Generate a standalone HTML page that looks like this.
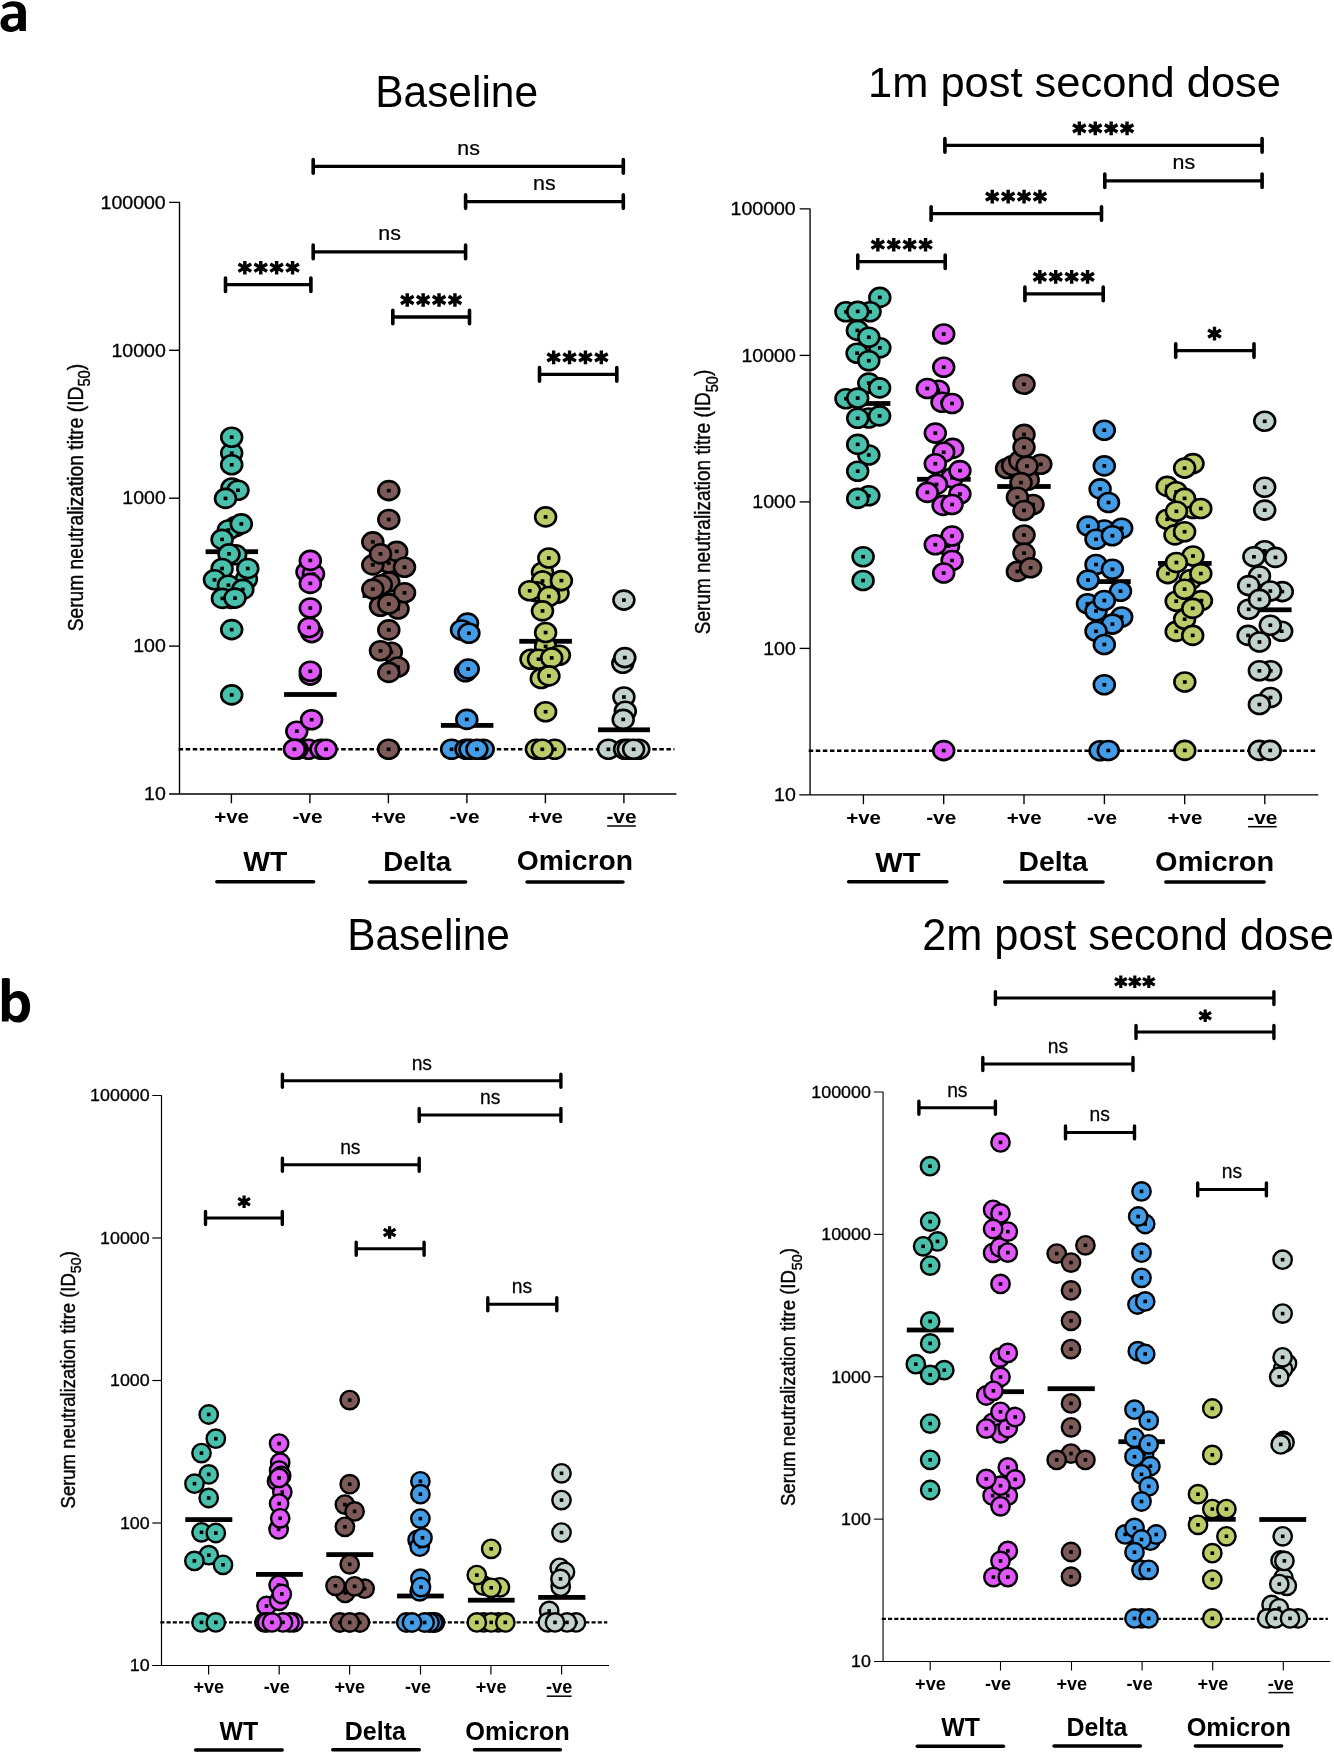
<!DOCTYPE html>
<html><head><meta charset="utf-8"><title>Neutralization titres</title>
<style>
html,body{margin:0;padding:0;background:#fff;}
body{width:1334px;height:1752px;overflow:hidden;}
svg{display:block;will-change:transform;}
text{font-family:"Liberation Sans",sans-serif;fill:#000;}
</style></head><body>
<svg width="1334" height="1752" viewBox="0 0 1334 1752">
<rect width="1334" height="1752" fill="#fff"/>
<path fill="#000" fill-rule="evenodd" d="M2.0,5.6C5.5,2.6 9.5,1.2 13.0,1.2C21.5,1.2 25.9,4.8 25.9,12.0L25.9,31.0L19.6,31.0L19.1,28.6C17.0,30.9 14.2,32.0 10.6,32.0C4.3,32.0 0.5,28.6 0.5,23.3C0.5,16.9 5.8,13.8 13.6,13.8L18.0,13.8L18.0,12.0C18.0,8.4 15.9,6.6 12.1,6.6C9.0,6.6 6.0,7.6 3.5,9.2ZM18.0,18.3L13.9,18.3C10.0,18.3 8.0,19.8 8.0,22.7C8.0,25.2 9.6,26.7 12.2,26.7C15.5,26.7 18.0,24.5 18.0,21.5Z"/>
<path fill="#000" fill-rule="evenodd" d="M1.9,979.0Q1.9,978.0 5.8,978.0Q9.8,978.0 9.8,979.0L9.8,995.3C12.0,992.5 15.0,991.0 18.6,991.0C25.8,991.0 30.1,997.5 30.1,1006.6C30.1,1016.3 25.4,1022.6 18.0,1022.6C14.2,1022.6 11.2,1021.0 9.0,1018.0L8.4,1021.6L1.9,1021.6ZM9.8,1001.8C11.2,999.3 13.3,997.7 15.9,997.7C19.7,997.7 21.9,1001.2 21.9,1006.7C21.9,1012.6 19.6,1016.0 15.7,1016.0C13.2,1016.0 11.2,1014.6 9.8,1012.0Z"/>
<path d="M178.60,749.35H674.50" stroke="#000" stroke-width="2.5" stroke-dasharray="4.5 2.57"/>
<path d="M169.10,202.40H179.50V794.00M169.10,794.00H676.40" stroke="#000" stroke-width="1.4" fill="none" stroke-linejoin="round"/>
<text transform="translate(100.54,208.61) scale(1.098,1)" font-size="17.8" stroke="#000" stroke-width="0.3">100000</text>
<line x1="169.10" y1="350.30" x2="179.50" y2="350.30" stroke="#000" stroke-width="1.4" stroke-linecap="butt"/>
<text transform="translate(111.41,356.51) scale(1.098,1)" font-size="17.8" stroke="#000" stroke-width="0.3">10000</text>
<line x1="169.10" y1="498.20" x2="179.50" y2="498.20" stroke="#000" stroke-width="1.4" stroke-linecap="butt"/>
<text transform="translate(122.30,504.41) scale(1.098,1)" font-size="17.8" stroke="#000" stroke-width="0.3">1000</text>
<line x1="169.10" y1="646.10" x2="179.50" y2="646.10" stroke="#000" stroke-width="1.4" stroke-linecap="butt"/>
<text transform="translate(133.16,652.31) scale(1.098,1)" font-size="17.8" stroke="#000" stroke-width="0.3">100</text>
<text transform="translate(144.03,800.21) scale(1.098,1)" font-size="17.8" stroke="#000" stroke-width="0.3">10</text>
<line x1="231.40" y1="794.00" x2="231.40" y2="803.30" stroke="#000" stroke-width="1.4" stroke-linecap="butt"/>
<line x1="309.90" y1="794.00" x2="309.90" y2="803.30" stroke="#000" stroke-width="1.4" stroke-linecap="butt"/>
<line x1="388.40" y1="794.00" x2="388.40" y2="803.30" stroke="#000" stroke-width="1.4" stroke-linecap="butt"/>
<line x1="466.90" y1="794.00" x2="466.90" y2="803.30" stroke="#000" stroke-width="1.4" stroke-linecap="butt"/>
<line x1="545.40" y1="794.00" x2="545.40" y2="803.30" stroke="#000" stroke-width="1.4" stroke-linecap="butt"/>
<line x1="623.90" y1="794.00" x2="623.90" y2="803.30" stroke="#000" stroke-width="1.4" stroke-linecap="butt"/>
<text transform="translate(214.19,823.30) scale(1.1364,1)" font-size="18.09" font-weight="bold">+ve</text>
<text transform="translate(292.39,823.30) scale(1.1328,1)" font-size="18.40" font-weight="bold">-ve</text>
<text transform="translate(371.19,823.30) scale(1.1364,1)" font-size="18.09" font-weight="bold">+ve</text>
<text transform="translate(449.39,823.30) scale(1.1328,1)" font-size="18.40" font-weight="bold">-ve</text>
<text transform="translate(528.19,823.30) scale(1.1364,1)" font-size="18.09" font-weight="bold">+ve</text>
<text transform="translate(606.39,823.30) scale(1.1328,1)" font-size="18.40" font-weight="bold">-ve</text>
<line x1="607.20" y1="826.00" x2="635.80" y2="826.00" stroke="#000" stroke-width="1.5" stroke-linecap="butt"/>
<text transform="translate(243.37,870.90) scale(1.0096,1)" font-size="28.05" font-weight="bold">WT</text>
<text transform="translate(383.24,870.90) scale(1.0335,1)" font-size="26.90" font-weight="bold">Delta</text>
<text transform="translate(516.74,870.40) scale(1.0463,1)" font-size="27.03" font-weight="bold">Omicron</text>
<line x1="216.85" y1="881.80" x2="313.65" y2="881.80" stroke="#000" stroke-width="3.5" stroke-linecap="round"/>
<line x1="369.75" y1="881.90" x2="465.65" y2="881.90" stroke="#000" stroke-width="3.5" stroke-linecap="round"/>
<line x1="527.05" y1="881.90" x2="622.95" y2="881.90" stroke="#000" stroke-width="3.5" stroke-linecap="round"/>
<text transform="translate(82.60,630.50) rotate(-90) scale(0.8746,1)" font-size="22.0" stroke="#000" stroke-width="0.4" x="-1.01">Serum neutralization titre (ID<tspan font-size="16.94" dy="7.37">50</tspan><tspan dy="-7.37">)</tspan></text>
<text transform="translate(375.22,106.90) scale(0.9499,1)" font-size="44.69" font-weight="normal">Baseline</text>
<rect x="205.60" y="549.30" width="52.50" height="4.8" fill="#000"/>
<rect x="284.10" y="692.10" width="52.60" height="4.8" fill="#000"/>
<rect x="362.60" y="593.10" width="52.00" height="4.8" fill="#000"/>
<rect x="440.90" y="723.00" width="52.50" height="4.8" fill="#000"/>
<rect x="519.30" y="638.90" width="52.60" height="4.8" fill="#000"/>
<rect x="598.00" y="727.40" width="52.00" height="4.8" fill="#000"/>
<path d="M313.20,166.40H623.30" stroke="#000" stroke-width="3.3"/>
<path d="M313.20,159.65V173.15M623.30,159.65V173.15" stroke="#000" stroke-width="3.6" stroke-linecap="round"/>
<text transform="translate(457.29,154.50) scale(1.0272,1)" font-size="20.82" font-weight="normal" stroke="#000" stroke-width="0.25">ns</text>
<path d="M465.60,201.60H623.30" stroke="#000" stroke-width="3.3"/>
<path d="M465.60,194.85V208.35M623.30,194.85V208.35" stroke="#000" stroke-width="3.6" stroke-linecap="round"/>
<text transform="translate(532.99,189.70) scale(1.0272,1)" font-size="20.82" font-weight="normal" stroke="#000" stroke-width="0.25">ns</text>
<path d="M313.20,251.90H465.60" stroke="#000" stroke-width="3.3"/>
<path d="M313.20,245.15V258.65M465.60,245.15V258.65" stroke="#000" stroke-width="3.6" stroke-linecap="round"/>
<text transform="translate(378.29,240.00) scale(1.0272,1)" font-size="20.82" font-weight="normal" stroke="#000" stroke-width="0.25">ns</text>
<path d="M225.50,284.70H310.90" stroke="#000" stroke-width="3.3"/>
<path d="M225.50,277.95V291.45M310.90,277.95V291.45" stroke="#000" stroke-width="3.6" stroke-linecap="round"/>
<path d="M244.85,260.90V274.50M238.49,264.03L251.21,271.37M238.49,271.37L251.21,264.03" stroke="#000" stroke-width="3.4" fill="none"/>
<path d="M260.75,260.90V274.50M254.39,264.03L267.11,271.37M254.39,271.37L267.11,264.03" stroke="#000" stroke-width="3.4" fill="none"/>
<path d="M276.65,260.90V274.50M270.29,264.03L283.01,271.37M270.29,271.37L283.01,264.03" stroke="#000" stroke-width="3.4" fill="none"/>
<path d="M292.55,260.90V274.50M286.19,264.03L298.91,271.37M286.19,271.37L298.91,264.03" stroke="#000" stroke-width="3.4" fill="none"/>
<path d="M392.80,317.00H469.50" stroke="#000" stroke-width="3.3"/>
<path d="M392.80,310.25V323.75M469.50,310.25V323.75" stroke="#000" stroke-width="3.6" stroke-linecap="round"/>
<path d="M407.25,293.20V306.80M400.89,296.33L413.61,303.67M400.89,303.67L413.61,296.33" stroke="#000" stroke-width="3.4" fill="none"/>
<path d="M423.15,293.20V306.80M416.79,296.33L429.51,303.67M416.79,303.67L429.51,296.33" stroke="#000" stroke-width="3.4" fill="none"/>
<path d="M439.05,293.20V306.80M432.69,296.33L445.41,303.67M432.69,303.67L445.41,296.33" stroke="#000" stroke-width="3.4" fill="none"/>
<path d="M454.95,293.20V306.80M448.59,296.33L461.31,303.67M448.59,303.67L461.31,296.33" stroke="#000" stroke-width="3.4" fill="none"/>
<path d="M539.50,374.40H616.80" stroke="#000" stroke-width="3.3"/>
<path d="M539.50,367.65V381.15M616.80,367.65V381.15" stroke="#000" stroke-width="3.6" stroke-linecap="round"/>
<path d="M553.65,350.60V364.20M547.29,353.73L560.01,361.07M547.29,361.07L560.01,353.73" stroke="#000" stroke-width="3.4" fill="none"/>
<path d="M569.55,350.60V364.20M563.19,353.73L575.91,361.07M563.19,361.07L575.91,353.73" stroke="#000" stroke-width="3.4" fill="none"/>
<path d="M585.45,350.60V364.20M579.09,353.73L591.81,361.07M579.09,361.07L591.81,353.73" stroke="#000" stroke-width="3.4" fill="none"/>
<path d="M601.35,350.60V364.20M594.99,353.73L607.71,361.07M594.99,361.07L607.71,353.73" stroke="#000" stroke-width="3.4" fill="none"/>
<ellipse cx="231.70" cy="453.10" rx="10.45" ry="9.5" fill="#48C0AC" stroke="#000" stroke-width="2.6"/>
<rect x="229.80" y="451.30" width="3.8" height="3.6" fill="#000"/>
<ellipse cx="231.70" cy="437.20" rx="10.45" ry="9.5" fill="#48C0AC" stroke="#000" stroke-width="2.6"/>
<rect x="229.80" y="435.40" width="3.8" height="3.6" fill="#000"/>
<ellipse cx="231.70" cy="464.80" rx="10.45" ry="9.5" fill="#48C0AC" stroke="#000" stroke-width="2.6"/>
<rect x="229.80" y="463.00" width="3.8" height="3.6" fill="#000"/>
<ellipse cx="232.00" cy="488.00" rx="10.45" ry="9.5" fill="#48C0AC" stroke="#000" stroke-width="2.6"/>
<rect x="230.10" y="486.20" width="3.8" height="3.6" fill="#000"/>
<ellipse cx="238.00" cy="490.30" rx="10.45" ry="9.5" fill="#48C0AC" stroke="#000" stroke-width="2.6"/>
<rect x="236.10" y="488.50" width="3.8" height="3.6" fill="#000"/>
<ellipse cx="225.50" cy="498.40" rx="10.45" ry="9.5" fill="#48C0AC" stroke="#000" stroke-width="2.6"/>
<rect x="223.60" y="496.60" width="3.8" height="3.6" fill="#000"/>
<ellipse cx="235.60" cy="526.50" rx="10.45" ry="9.5" fill="#48C0AC" stroke="#000" stroke-width="2.6"/>
<rect x="233.70" y="524.70" width="3.8" height="3.6" fill="#000"/>
<ellipse cx="228.40" cy="530.00" rx="10.45" ry="9.5" fill="#48C0AC" stroke="#000" stroke-width="2.6"/>
<rect x="226.50" y="528.20" width="3.8" height="3.6" fill="#000"/>
<ellipse cx="241.30" cy="523.90" rx="10.45" ry="9.5" fill="#48C0AC" stroke="#000" stroke-width="2.6"/>
<rect x="239.40" y="522.10" width="3.8" height="3.6" fill="#000"/>
<ellipse cx="222.10" cy="539.40" rx="10.45" ry="9.5" fill="#48C0AC" stroke="#000" stroke-width="2.6"/>
<rect x="220.20" y="537.60" width="3.8" height="3.6" fill="#000"/>
<ellipse cx="235.60" cy="554.70" rx="10.45" ry="9.5" fill="#48C0AC" stroke="#000" stroke-width="2.6"/>
<rect x="233.70" y="552.90" width="3.8" height="3.6" fill="#000"/>
<ellipse cx="229.00" cy="553.90" rx="10.45" ry="9.5" fill="#48C0AC" stroke="#000" stroke-width="2.6"/>
<rect x="227.10" y="552.10" width="3.8" height="3.6" fill="#000"/>
<ellipse cx="246.40" cy="579.20" rx="10.45" ry="9.5" fill="#48C0AC" stroke="#000" stroke-width="2.6"/>
<rect x="244.50" y="577.40" width="3.8" height="3.6" fill="#000"/>
<ellipse cx="230.80" cy="598.40" rx="10.45" ry="9.5" fill="#48C0AC" stroke="#000" stroke-width="2.6"/>
<rect x="228.90" y="596.60" width="3.8" height="3.6" fill="#000"/>
<ellipse cx="222.10" cy="568.50" rx="10.45" ry="9.5" fill="#48C0AC" stroke="#000" stroke-width="2.6"/>
<rect x="220.20" y="566.70" width="3.8" height="3.6" fill="#000"/>
<ellipse cx="247.80" cy="568.50" rx="10.45" ry="9.5" fill="#48C0AC" stroke="#000" stroke-width="2.6"/>
<rect x="245.90" y="566.70" width="3.8" height="3.6" fill="#000"/>
<ellipse cx="214.50" cy="579.80" rx="10.45" ry="9.5" fill="#48C0AC" stroke="#000" stroke-width="2.6"/>
<rect x="212.60" y="578.00" width="3.8" height="3.6" fill="#000"/>
<ellipse cx="228.40" cy="585.20" rx="10.45" ry="9.5" fill="#48C0AC" stroke="#000" stroke-width="2.6"/>
<rect x="226.50" y="583.40" width="3.8" height="3.6" fill="#000"/>
<ellipse cx="242.80" cy="589.40" rx="10.45" ry="9.5" fill="#48C0AC" stroke="#000" stroke-width="2.6"/>
<rect x="240.90" y="587.60" width="3.8" height="3.6" fill="#000"/>
<ellipse cx="222.40" cy="598.40" rx="10.45" ry="9.5" fill="#48C0AC" stroke="#000" stroke-width="2.6"/>
<rect x="220.50" y="596.60" width="3.8" height="3.6" fill="#000"/>
<ellipse cx="235.00" cy="598.10" rx="10.45" ry="9.5" fill="#48C0AC" stroke="#000" stroke-width="2.6"/>
<rect x="233.10" y="596.30" width="3.8" height="3.6" fill="#000"/>
<ellipse cx="231.70" cy="629.60" rx="10.45" ry="9.5" fill="#48C0AC" stroke="#000" stroke-width="2.6"/>
<rect x="229.80" y="627.80" width="3.8" height="3.6" fill="#000"/>
<ellipse cx="231.70" cy="694.90" rx="10.45" ry="9.5" fill="#48C0AC" stroke="#000" stroke-width="2.6"/>
<rect x="229.80" y="693.10" width="3.8" height="3.6" fill="#000"/>
<ellipse cx="307.00" cy="572.00" rx="10.45" ry="9.5" fill="#E058FA" stroke="#000" stroke-width="2.6"/>
<rect x="305.10" y="570.20" width="3.8" height="3.6" fill="#000"/>
<ellipse cx="313.50" cy="574.00" rx="10.45" ry="9.5" fill="#E058FA" stroke="#000" stroke-width="2.6"/>
<rect x="311.60" y="572.20" width="3.8" height="3.6" fill="#000"/>
<ellipse cx="310.30" cy="560.40" rx="10.45" ry="9.5" fill="#E058FA" stroke="#000" stroke-width="2.6"/>
<rect x="308.40" y="558.60" width="3.8" height="3.6" fill="#000"/>
<ellipse cx="310.30" cy="583.40" rx="10.45" ry="9.5" fill="#E058FA" stroke="#000" stroke-width="2.6"/>
<rect x="308.40" y="581.60" width="3.8" height="3.6" fill="#000"/>
<ellipse cx="310.30" cy="608.00" rx="10.45" ry="9.5" fill="#E058FA" stroke="#000" stroke-width="2.6"/>
<rect x="308.40" y="606.20" width="3.8" height="3.6" fill="#000"/>
<ellipse cx="311.70" cy="632.60" rx="10.45" ry="9.5" fill="#E058FA" stroke="#000" stroke-width="2.6"/>
<rect x="309.80" y="630.80" width="3.8" height="3.6" fill="#000"/>
<ellipse cx="309.10" cy="627.50" rx="10.45" ry="9.5" fill="#E058FA" stroke="#000" stroke-width="2.6"/>
<rect x="307.20" y="625.70" width="3.8" height="3.6" fill="#000"/>
<ellipse cx="310.30" cy="675.10" rx="10.45" ry="9.5" fill="#E058FA" stroke="#000" stroke-width="2.6"/>
<rect x="308.40" y="673.30" width="3.8" height="3.6" fill="#000"/>
<ellipse cx="310.30" cy="671.30" rx="10.45" ry="9.5" fill="#E058FA" stroke="#000" stroke-width="2.6"/>
<rect x="308.40" y="669.50" width="3.8" height="3.6" fill="#000"/>
<ellipse cx="296.80" cy="731.20" rx="10.45" ry="9.5" fill="#E058FA" stroke="#000" stroke-width="2.6"/>
<rect x="294.90" y="729.40" width="3.8" height="3.6" fill="#000"/>
<ellipse cx="311.60" cy="719.70" rx="10.45" ry="9.5" fill="#E058FA" stroke="#000" stroke-width="2.6"/>
<rect x="309.70" y="717.90" width="3.8" height="3.6" fill="#000"/>
<ellipse cx="308.50" cy="749.30" rx="10.45" ry="9.5" fill="#E058FA" stroke="#000" stroke-width="2.6"/>
<rect x="306.60" y="747.50" width="3.8" height="3.6" fill="#000"/>
<ellipse cx="297.00" cy="749.30" rx="10.45" ry="9.5" fill="#E058FA" stroke="#000" stroke-width="2.6"/>
<rect x="295.10" y="747.50" width="3.8" height="3.6" fill="#000"/>
<ellipse cx="321.00" cy="749.30" rx="10.45" ry="9.5" fill="#E058FA" stroke="#000" stroke-width="2.6"/>
<rect x="319.10" y="747.50" width="3.8" height="3.6" fill="#000"/>
<ellipse cx="294.40" cy="749.30" rx="10.45" ry="9.5" fill="#E058FA" stroke="#000" stroke-width="2.6"/>
<rect x="292.50" y="747.50" width="3.8" height="3.6" fill="#000"/>
<ellipse cx="326.10" cy="749.30" rx="10.45" ry="9.5" fill="#E058FA" stroke="#000" stroke-width="2.6"/>
<rect x="324.20" y="747.50" width="3.8" height="3.6" fill="#000"/>
<ellipse cx="388.80" cy="563.10" rx="10.45" ry="9.5" fill="#7B5A57" stroke="#000" stroke-width="2.6"/>
<rect x="386.90" y="561.30" width="3.8" height="3.6" fill="#000"/>
<ellipse cx="388.80" cy="582.00" rx="10.45" ry="9.5" fill="#7B5A57" stroke="#000" stroke-width="2.6"/>
<rect x="386.90" y="580.20" width="3.8" height="3.6" fill="#000"/>
<ellipse cx="381.20" cy="584.70" rx="10.45" ry="9.5" fill="#7B5A57" stroke="#000" stroke-width="2.6"/>
<rect x="379.30" y="582.90" width="3.8" height="3.6" fill="#000"/>
<ellipse cx="380.50" cy="606.30" rx="10.45" ry="9.5" fill="#7B5A57" stroke="#000" stroke-width="2.6"/>
<rect x="378.60" y="604.50" width="3.8" height="3.6" fill="#000"/>
<ellipse cx="398.00" cy="609.00" rx="10.45" ry="9.5" fill="#7B5A57" stroke="#000" stroke-width="2.6"/>
<rect x="396.10" y="607.20" width="3.8" height="3.6" fill="#000"/>
<ellipse cx="391.30" cy="652.20" rx="10.45" ry="9.5" fill="#7B5A57" stroke="#000" stroke-width="2.6"/>
<rect x="389.40" y="650.40" width="3.8" height="3.6" fill="#000"/>
<ellipse cx="398.00" cy="667.00" rx="10.45" ry="9.5" fill="#7B5A57" stroke="#000" stroke-width="2.6"/>
<rect x="396.10" y="665.20" width="3.8" height="3.6" fill="#000"/>
<ellipse cx="388.80" cy="490.60" rx="10.45" ry="9.5" fill="#7B5A57" stroke="#000" stroke-width="2.6"/>
<rect x="386.90" y="488.80" width="3.8" height="3.6" fill="#000"/>
<ellipse cx="388.80" cy="519.50" rx="10.45" ry="9.5" fill="#7B5A57" stroke="#000" stroke-width="2.6"/>
<rect x="386.90" y="517.70" width="3.8" height="3.6" fill="#000"/>
<ellipse cx="372.80" cy="541.90" rx="10.45" ry="9.5" fill="#7B5A57" stroke="#000" stroke-width="2.6"/>
<rect x="370.90" y="540.10" width="3.8" height="3.6" fill="#000"/>
<ellipse cx="396.70" cy="551.40" rx="10.45" ry="9.5" fill="#7B5A57" stroke="#000" stroke-width="2.6"/>
<rect x="394.80" y="549.60" width="3.8" height="3.6" fill="#000"/>
<ellipse cx="372.80" cy="564.90" rx="10.45" ry="9.5" fill="#7B5A57" stroke="#000" stroke-width="2.6"/>
<rect x="370.90" y="563.10" width="3.8" height="3.6" fill="#000"/>
<ellipse cx="380.50" cy="553.90" rx="10.45" ry="9.5" fill="#7B5A57" stroke="#000" stroke-width="2.6"/>
<rect x="378.60" y="552.10" width="3.8" height="3.6" fill="#000"/>
<ellipse cx="404.50" cy="567.20" rx="10.45" ry="9.5" fill="#7B5A57" stroke="#000" stroke-width="2.6"/>
<rect x="402.60" y="565.40" width="3.8" height="3.6" fill="#000"/>
<ellipse cx="372.80" cy="589.10" rx="10.45" ry="9.5" fill="#7B5A57" stroke="#000" stroke-width="2.6"/>
<rect x="370.90" y="587.30" width="3.8" height="3.6" fill="#000"/>
<ellipse cx="404.50" cy="592.80" rx="10.45" ry="9.5" fill="#7B5A57" stroke="#000" stroke-width="2.6"/>
<rect x="402.60" y="591.00" width="3.8" height="3.6" fill="#000"/>
<ellipse cx="388.80" cy="604.00" rx="10.45" ry="9.5" fill="#7B5A57" stroke="#000" stroke-width="2.6"/>
<rect x="386.90" y="602.20" width="3.8" height="3.6" fill="#000"/>
<ellipse cx="388.80" cy="629.90" rx="10.45" ry="9.5" fill="#7B5A57" stroke="#000" stroke-width="2.6"/>
<rect x="386.90" y="628.10" width="3.8" height="3.6" fill="#000"/>
<ellipse cx="380.50" cy="650.80" rx="10.45" ry="9.5" fill="#7B5A57" stroke="#000" stroke-width="2.6"/>
<rect x="378.60" y="649.00" width="3.8" height="3.6" fill="#000"/>
<ellipse cx="388.80" cy="672.40" rx="10.45" ry="9.5" fill="#7B5A57" stroke="#000" stroke-width="2.6"/>
<rect x="386.90" y="670.60" width="3.8" height="3.6" fill="#000"/>
<ellipse cx="388.60" cy="749.30" rx="10.45" ry="9.5" fill="#7B5A57" stroke="#000" stroke-width="2.6"/>
<rect x="386.70" y="747.50" width="3.8" height="3.6" fill="#000"/>
<ellipse cx="467.50" cy="623.10" rx="10.45" ry="9.5" fill="#449BE6" stroke="#000" stroke-width="2.6"/>
<rect x="465.60" y="621.30" width="3.8" height="3.6" fill="#000"/>
<ellipse cx="461.50" cy="630.00" rx="10.45" ry="9.5" fill="#449BE6" stroke="#000" stroke-width="2.6"/>
<rect x="459.60" y="628.20" width="3.8" height="3.6" fill="#000"/>
<ellipse cx="468.90" cy="633.30" rx="10.45" ry="9.5" fill="#449BE6" stroke="#000" stroke-width="2.6"/>
<rect x="467.00" y="631.50" width="3.8" height="3.6" fill="#000"/>
<ellipse cx="465.50" cy="671.70" rx="10.45" ry="9.5" fill="#449BE6" stroke="#000" stroke-width="2.6"/>
<rect x="463.60" y="669.90" width="3.8" height="3.6" fill="#000"/>
<ellipse cx="468.20" cy="669.00" rx="10.45" ry="9.5" fill="#449BE6" stroke="#000" stroke-width="2.6"/>
<rect x="466.30" y="667.20" width="3.8" height="3.6" fill="#000"/>
<ellipse cx="466.80" cy="719.40" rx="10.45" ry="9.5" fill="#449BE6" stroke="#000" stroke-width="2.6"/>
<rect x="464.90" y="717.60" width="3.8" height="3.6" fill="#000"/>
<ellipse cx="483.20" cy="749.30" rx="10.45" ry="9.5" fill="#449BE6" stroke="#000" stroke-width="2.6"/>
<rect x="481.30" y="747.50" width="3.8" height="3.6" fill="#000"/>
<ellipse cx="451.60" cy="749.30" rx="10.45" ry="9.5" fill="#449BE6" stroke="#000" stroke-width="2.6"/>
<rect x="449.70" y="747.50" width="3.8" height="3.6" fill="#000"/>
<ellipse cx="466.00" cy="749.30" rx="10.45" ry="9.5" fill="#449BE6" stroke="#000" stroke-width="2.6"/>
<rect x="464.10" y="747.50" width="3.8" height="3.6" fill="#000"/>
<ellipse cx="470.00" cy="749.30" rx="10.45" ry="9.5" fill="#449BE6" stroke="#000" stroke-width="2.6"/>
<rect x="468.10" y="747.50" width="3.8" height="3.6" fill="#000"/>
<ellipse cx="476.90" cy="749.30" rx="10.45" ry="9.5" fill="#449BE6" stroke="#000" stroke-width="2.6"/>
<rect x="475.00" y="747.50" width="3.8" height="3.6" fill="#000"/>
<ellipse cx="542.50" cy="572.20" rx="10.45" ry="9.5" fill="#BCCC68" stroke="#000" stroke-width="2.6"/>
<rect x="540.60" y="570.40" width="3.8" height="3.6" fill="#000"/>
<ellipse cx="542.50" cy="581.00" rx="10.45" ry="9.5" fill="#BCCC68" stroke="#000" stroke-width="2.6"/>
<rect x="540.60" y="579.20" width="3.8" height="3.6" fill="#000"/>
<ellipse cx="536.40" cy="591.80" rx="10.45" ry="9.5" fill="#BCCC68" stroke="#000" stroke-width="2.6"/>
<rect x="534.50" y="590.00" width="3.8" height="3.6" fill="#000"/>
<ellipse cx="558.00" cy="593.10" rx="10.45" ry="9.5" fill="#BCCC68" stroke="#000" stroke-width="2.6"/>
<rect x="556.10" y="591.30" width="3.8" height="3.6" fill="#000"/>
<ellipse cx="545.60" cy="646.40" rx="10.45" ry="9.5" fill="#BCCC68" stroke="#000" stroke-width="2.6"/>
<rect x="543.70" y="644.60" width="3.8" height="3.6" fill="#000"/>
<ellipse cx="531.00" cy="659.20" rx="10.45" ry="9.5" fill="#BCCC68" stroke="#000" stroke-width="2.6"/>
<rect x="529.10" y="657.40" width="3.8" height="3.6" fill="#000"/>
<ellipse cx="559.40" cy="655.20" rx="10.45" ry="9.5" fill="#BCCC68" stroke="#000" stroke-width="2.6"/>
<rect x="557.50" y="653.40" width="3.8" height="3.6" fill="#000"/>
<ellipse cx="541.30" cy="678.50" rx="10.45" ry="9.5" fill="#BCCC68" stroke="#000" stroke-width="2.6"/>
<rect x="539.40" y="676.70" width="3.8" height="3.6" fill="#000"/>
<ellipse cx="545.60" cy="516.90" rx="10.45" ry="9.5" fill="#BCCC68" stroke="#000" stroke-width="2.6"/>
<rect x="543.70" y="515.10" width="3.8" height="3.6" fill="#000"/>
<ellipse cx="548.80" cy="558.00" rx="10.45" ry="9.5" fill="#BCCC68" stroke="#000" stroke-width="2.6"/>
<rect x="546.90" y="556.20" width="3.8" height="3.6" fill="#000"/>
<ellipse cx="561.40" cy="580.60" rx="10.45" ry="9.5" fill="#BCCC68" stroke="#000" stroke-width="2.6"/>
<rect x="559.50" y="578.80" width="3.8" height="3.6" fill="#000"/>
<ellipse cx="529.70" cy="590.80" rx="10.45" ry="9.5" fill="#BCCC68" stroke="#000" stroke-width="2.6"/>
<rect x="527.80" y="589.00" width="3.8" height="3.6" fill="#000"/>
<ellipse cx="548.80" cy="596.50" rx="10.45" ry="9.5" fill="#BCCC68" stroke="#000" stroke-width="2.6"/>
<rect x="546.90" y="594.70" width="3.8" height="3.6" fill="#000"/>
<ellipse cx="542.50" cy="610.90" rx="10.45" ry="9.5" fill="#BCCC68" stroke="#000" stroke-width="2.6"/>
<rect x="540.60" y="609.10" width="3.8" height="3.6" fill="#000"/>
<ellipse cx="545.60" cy="632.50" rx="10.45" ry="9.5" fill="#BCCC68" stroke="#000" stroke-width="2.6"/>
<rect x="543.70" y="630.70" width="3.8" height="3.6" fill="#000"/>
<ellipse cx="538.50" cy="659.20" rx="10.45" ry="9.5" fill="#BCCC68" stroke="#000" stroke-width="2.6"/>
<rect x="536.60" y="657.40" width="3.8" height="3.6" fill="#000"/>
<ellipse cx="551.70" cy="657.90" rx="10.45" ry="9.5" fill="#BCCC68" stroke="#000" stroke-width="2.6"/>
<rect x="549.80" y="656.10" width="3.8" height="3.6" fill="#000"/>
<ellipse cx="548.90" cy="675.90" rx="10.45" ry="9.5" fill="#BCCC68" stroke="#000" stroke-width="2.6"/>
<rect x="547.00" y="674.10" width="3.8" height="3.6" fill="#000"/>
<ellipse cx="545.60" cy="711.70" rx="10.45" ry="9.5" fill="#BCCC68" stroke="#000" stroke-width="2.6"/>
<rect x="543.70" y="709.90" width="3.8" height="3.6" fill="#000"/>
<ellipse cx="536.40" cy="749.30" rx="10.45" ry="9.5" fill="#BCCC68" stroke="#000" stroke-width="2.6"/>
<rect x="534.50" y="747.50" width="3.8" height="3.6" fill="#000"/>
<ellipse cx="554.70" cy="749.30" rx="10.45" ry="9.5" fill="#BCCC68" stroke="#000" stroke-width="2.6"/>
<rect x="552.80" y="747.50" width="3.8" height="3.6" fill="#000"/>
<ellipse cx="542.30" cy="749.30" rx="10.45" ry="9.5" fill="#BCCC68" stroke="#000" stroke-width="2.6"/>
<rect x="540.40" y="747.50" width="3.8" height="3.6" fill="#000"/>
<ellipse cx="623.90" cy="600.10" rx="10.45" ry="9.5" fill="#C2D3CD" stroke="#000" stroke-width="2.6"/>
<rect x="622.00" y="598.30" width="3.8" height="3.6" fill="#000"/>
<ellipse cx="622.80" cy="663.30" rx="10.45" ry="9.5" fill="#C2D3CD" stroke="#000" stroke-width="2.6"/>
<rect x="620.90" y="661.50" width="3.8" height="3.6" fill="#000"/>
<ellipse cx="624.80" cy="657.60" rx="10.45" ry="9.5" fill="#C2D3CD" stroke="#000" stroke-width="2.6"/>
<rect x="622.90" y="655.80" width="3.8" height="3.6" fill="#000"/>
<ellipse cx="623.90" cy="697.00" rx="10.45" ry="9.5" fill="#C2D3CD" stroke="#000" stroke-width="2.6"/>
<rect x="622.00" y="695.20" width="3.8" height="3.6" fill="#000"/>
<ellipse cx="625.30" cy="711.20" rx="10.45" ry="9.5" fill="#C2D3CD" stroke="#000" stroke-width="2.6"/>
<rect x="623.40" y="709.40" width="3.8" height="3.6" fill="#000"/>
<ellipse cx="623.20" cy="719.40" rx="10.45" ry="9.5" fill="#C2D3CD" stroke="#000" stroke-width="2.6"/>
<rect x="621.30" y="717.60" width="3.8" height="3.6" fill="#000"/>
<ellipse cx="638.80" cy="749.30" rx="10.45" ry="9.5" fill="#C2D3CD" stroke="#000" stroke-width="2.6"/>
<rect x="636.90" y="747.50" width="3.8" height="3.6" fill="#000"/>
<ellipse cx="608.40" cy="749.30" rx="10.45" ry="9.5" fill="#C2D3CD" stroke="#000" stroke-width="2.6"/>
<rect x="606.50" y="747.50" width="3.8" height="3.6" fill="#000"/>
<ellipse cx="624.60" cy="749.30" rx="10.45" ry="9.5" fill="#C2D3CD" stroke="#000" stroke-width="2.6"/>
<rect x="622.70" y="747.50" width="3.8" height="3.6" fill="#000"/>
<ellipse cx="628.30" cy="749.30" rx="10.45" ry="9.5" fill="#C2D3CD" stroke="#000" stroke-width="2.6"/>
<rect x="626.40" y="747.50" width="3.8" height="3.6" fill="#000"/>
<ellipse cx="633.60" cy="749.30" rx="10.45" ry="9.5" fill="#C2D3CD" stroke="#000" stroke-width="2.6"/>
<rect x="631.70" y="747.50" width="3.8" height="3.6" fill="#000"/>
<path d="M808.70,750.70H1316.40" stroke="#000" stroke-width="2.5" stroke-dasharray="4.5 2.57"/>
<path d="M799.65,208.90H810.05V794.90M799.30,794.90H1318.30" stroke="#000" stroke-width="1.35" fill="none" stroke-linejoin="round"/>
<text transform="translate(730.54,215.11) scale(1.098,1)" font-size="17.8" stroke="#000" stroke-width="0.3">100000</text>
<line x1="799.65" y1="355.40" x2="810.05" y2="355.40" stroke="#000" stroke-width="1.35" stroke-linecap="butt"/>
<text transform="translate(741.41,361.61) scale(1.098,1)" font-size="17.8" stroke="#000" stroke-width="0.3">10000</text>
<line x1="799.65" y1="501.90" x2="810.05" y2="501.90" stroke="#000" stroke-width="1.35" stroke-linecap="butt"/>
<text transform="translate(752.30,508.11) scale(1.098,1)" font-size="17.8" stroke="#000" stroke-width="0.3">1000</text>
<line x1="799.65" y1="648.40" x2="810.05" y2="648.40" stroke="#000" stroke-width="1.35" stroke-linecap="butt"/>
<text transform="translate(763.16,654.61) scale(1.098,1)" font-size="17.8" stroke="#000" stroke-width="0.3">100</text>
<text transform="translate(774.03,801.11) scale(1.098,1)" font-size="17.8" stroke="#000" stroke-width="0.3">10</text>
<line x1="863.40" y1="794.90" x2="863.40" y2="804.20" stroke="#000" stroke-width="1.35" stroke-linecap="butt"/>
<line x1="943.70" y1="794.90" x2="943.70" y2="804.20" stroke="#000" stroke-width="1.35" stroke-linecap="butt"/>
<line x1="1024.00" y1="794.90" x2="1024.00" y2="804.20" stroke="#000" stroke-width="1.35" stroke-linecap="butt"/>
<line x1="1104.40" y1="794.90" x2="1104.40" y2="804.20" stroke="#000" stroke-width="1.35" stroke-linecap="butt"/>
<line x1="1184.70" y1="794.90" x2="1184.70" y2="804.20" stroke="#000" stroke-width="1.35" stroke-linecap="butt"/>
<line x1="1264.80" y1="794.90" x2="1264.80" y2="804.20" stroke="#000" stroke-width="1.35" stroke-linecap="butt"/>
<text transform="translate(846.19,824.00) scale(1.1364,1)" font-size="18.09" font-weight="bold">+ve</text>
<text transform="translate(926.19,824.00) scale(1.1328,1)" font-size="18.40" font-weight="bold">-ve</text>
<text transform="translate(1006.79,824.00) scale(1.1364,1)" font-size="18.09" font-weight="bold">+ve</text>
<text transform="translate(1086.89,824.00) scale(1.1328,1)" font-size="18.40" font-weight="bold">-ve</text>
<text transform="translate(1167.49,824.00) scale(1.1364,1)" font-size="18.09" font-weight="bold">+ve</text>
<text transform="translate(1247.29,824.00) scale(1.1328,1)" font-size="18.40" font-weight="bold">-ve</text>
<line x1="1248.10" y1="826.70" x2="1276.70" y2="826.70" stroke="#000" stroke-width="1.5" stroke-linecap="butt"/>
<text transform="translate(875.37,871.50) scale(1.0482,1)" font-size="27.76" font-weight="bold">WT</text>
<text transform="translate(1018.50,870.80) scale(1.0538,1)" font-size="26.90" font-weight="bold">Delta</text>
<text transform="translate(1155.11,870.80) scale(1.0767,1)" font-size="26.90" font-weight="bold">Omicron</text>
<line x1="848.65" y1="881.70" x2="946.85" y2="881.70" stroke="#000" stroke-width="3.5" stroke-linecap="round"/>
<line x1="1004.65" y1="881.90" x2="1103.05" y2="881.90" stroke="#000" stroke-width="3.5" stroke-linecap="round"/>
<line x1="1165.85" y1="881.90" x2="1264.15" y2="881.90" stroke="#000" stroke-width="3.5" stroke-linecap="round"/>
<text transform="translate(710.30,633.40) rotate(-90) scale(0.8496,1)" font-size="22.4" stroke="#000" stroke-width="0.4" x="-1.03">Serum neutralization titre (ID<tspan font-size="17.25" dy="7.50">50</tspan><tspan dy="-7.50">)</tspan></text>
<text transform="translate(868.00,96.90) scale(1.0294,1)" font-size="42.21" font-weight="normal">1m post second dose</text>
<rect x="837.00" y="401.10" width="53.40" height="4.8" fill="#000"/>
<rect x="917.10" y="476.90" width="53.60" height="4.8" fill="#000"/>
<rect x="997.20" y="484.10" width="53.50" height="4.8" fill="#000"/>
<rect x="1077.70" y="579.20" width="53.00" height="4.8" fill="#000"/>
<rect x="1158.00" y="561.00" width="53.60" height="4.8" fill="#000"/>
<rect x="1238.00" y="607.40" width="53.60" height="4.8" fill="#000"/>
<path d="M944.90,145.40H1262.10" stroke="#000" stroke-width="3.3"/>
<path d="M944.90,138.65V152.15M1262.10,138.65V152.15" stroke="#000" stroke-width="3.6" stroke-linecap="round"/>
<path d="M1079.35,121.60V135.20M1072.99,124.73L1085.71,132.07M1072.99,132.07L1085.71,124.73" stroke="#000" stroke-width="3.4" fill="none"/>
<path d="M1095.25,121.60V135.20M1088.89,124.73L1101.61,132.07M1088.89,132.07L1101.61,124.73" stroke="#000" stroke-width="3.4" fill="none"/>
<path d="M1111.15,121.60V135.20M1104.79,124.73L1117.51,132.07M1104.79,132.07L1117.51,124.73" stroke="#000" stroke-width="3.4" fill="none"/>
<path d="M1127.05,121.60V135.20M1120.69,124.73L1133.41,132.07M1120.69,132.07L1133.41,124.73" stroke="#000" stroke-width="3.4" fill="none"/>
<path d="M1104.80,180.80H1262.10" stroke="#000" stroke-width="3.3"/>
<path d="M1104.80,174.05V187.55M1262.10,174.05V187.55" stroke="#000" stroke-width="3.6" stroke-linecap="round"/>
<text transform="translate(1172.49,168.90) scale(1.0272,1)" font-size="20.82" font-weight="normal" stroke="#000" stroke-width="0.25">ns</text>
<path d="M931.10,213.60H1101.50" stroke="#000" stroke-width="3.3"/>
<path d="M931.10,206.85V220.35M1101.50,206.85V220.35" stroke="#000" stroke-width="3.6" stroke-linecap="round"/>
<path d="M992.25,189.80V203.40M985.89,192.93L998.61,200.27M985.89,200.27L998.61,192.93" stroke="#000" stroke-width="3.4" fill="none"/>
<path d="M1008.15,189.80V203.40M1001.79,192.93L1014.51,200.27M1001.79,200.27L1014.51,192.93" stroke="#000" stroke-width="3.4" fill="none"/>
<path d="M1024.05,189.80V203.40M1017.69,192.93L1030.41,200.27M1017.69,200.27L1030.41,192.93" stroke="#000" stroke-width="3.4" fill="none"/>
<path d="M1039.95,189.80V203.40M1033.59,192.93L1046.31,200.27M1033.59,200.27L1046.31,192.93" stroke="#000" stroke-width="3.4" fill="none"/>
<path d="M857.80,261.70H945.20" stroke="#000" stroke-width="3.3"/>
<path d="M857.80,254.95V268.45M945.20,254.95V268.45" stroke="#000" stroke-width="3.6" stroke-linecap="round"/>
<path d="M877.85,237.90V251.50M871.49,241.03L884.21,248.37M871.49,248.37L884.21,241.03" stroke="#000" stroke-width="3.4" fill="none"/>
<path d="M893.75,237.90V251.50M887.39,241.03L900.11,248.37M887.39,248.37L900.11,241.03" stroke="#000" stroke-width="3.4" fill="none"/>
<path d="M909.65,237.90V251.50M903.29,241.03L916.01,248.37M903.29,248.37L916.01,241.03" stroke="#000" stroke-width="3.4" fill="none"/>
<path d="M925.55,237.90V251.50M919.19,241.03L931.91,248.37M919.19,248.37L931.91,241.03" stroke="#000" stroke-width="3.4" fill="none"/>
<path d="M1024.90,293.90H1103.20" stroke="#000" stroke-width="3.3"/>
<path d="M1024.90,287.15V300.65M1103.20,287.15V300.65" stroke="#000" stroke-width="3.6" stroke-linecap="round"/>
<path d="M1039.85,270.10V283.70M1033.49,273.23L1046.21,280.57M1033.49,280.57L1046.21,273.23" stroke="#000" stroke-width="3.4" fill="none"/>
<path d="M1055.75,270.10V283.70M1049.39,273.23L1062.11,280.57M1049.39,280.57L1062.11,273.23" stroke="#000" stroke-width="3.4" fill="none"/>
<path d="M1071.65,270.10V283.70M1065.29,273.23L1078.01,280.57M1065.29,280.57L1078.01,273.23" stroke="#000" stroke-width="3.4" fill="none"/>
<path d="M1087.55,270.10V283.70M1081.19,273.23L1093.91,280.57M1081.19,280.57L1093.91,273.23" stroke="#000" stroke-width="3.4" fill="none"/>
<path d="M1175.70,350.60H1254.00" stroke="#000" stroke-width="3.3"/>
<path d="M1175.70,343.85V357.35M1254.00,343.85V357.35" stroke="#000" stroke-width="3.6" stroke-linecap="round"/>
<path d="M1214.50,326.80V340.40M1208.14,329.93L1220.86,337.27M1208.14,337.27L1220.86,329.93" stroke="#000" stroke-width="3.4" fill="none"/>
<ellipse cx="879.80" cy="297.40" rx="10.45" ry="9.5" fill="#48C0AC" stroke="#000" stroke-width="2.6"/>
<rect x="877.90" y="295.60" width="3.8" height="3.6" fill="#000"/>
<ellipse cx="870.00" cy="311.80" rx="10.45" ry="9.5" fill="#48C0AC" stroke="#000" stroke-width="2.6"/>
<rect x="868.10" y="310.00" width="3.8" height="3.6" fill="#000"/>
<ellipse cx="846.00" cy="311.80" rx="10.45" ry="9.5" fill="#48C0AC" stroke="#000" stroke-width="2.6"/>
<rect x="844.10" y="310.00" width="3.8" height="3.6" fill="#000"/>
<ellipse cx="857.70" cy="311.40" rx="10.45" ry="9.5" fill="#48C0AC" stroke="#000" stroke-width="2.6"/>
<rect x="855.80" y="309.60" width="3.8" height="3.6" fill="#000"/>
<ellipse cx="857.40" cy="330.40" rx="10.45" ry="9.5" fill="#48C0AC" stroke="#000" stroke-width="2.6"/>
<rect x="855.50" y="328.60" width="3.8" height="3.6" fill="#000"/>
<ellipse cx="879.80" cy="347.80" rx="10.45" ry="9.5" fill="#48C0AC" stroke="#000" stroke-width="2.6"/>
<rect x="877.90" y="346.00" width="3.8" height="3.6" fill="#000"/>
<ellipse cx="868.80" cy="337.30" rx="10.45" ry="9.5" fill="#48C0AC" stroke="#000" stroke-width="2.6"/>
<rect x="866.90" y="335.50" width="3.8" height="3.6" fill="#000"/>
<ellipse cx="857.10" cy="353.20" rx="10.45" ry="9.5" fill="#48C0AC" stroke="#000" stroke-width="2.6"/>
<rect x="855.20" y="351.40" width="3.8" height="3.6" fill="#000"/>
<ellipse cx="868.80" cy="360.70" rx="10.45" ry="9.5" fill="#48C0AC" stroke="#000" stroke-width="2.6"/>
<rect x="866.90" y="358.90" width="3.8" height="3.6" fill="#000"/>
<ellipse cx="868.80" cy="383.10" rx="10.45" ry="9.5" fill="#48C0AC" stroke="#000" stroke-width="2.6"/>
<rect x="866.90" y="381.30" width="3.8" height="3.6" fill="#000"/>
<ellipse cx="846.00" cy="398.70" rx="10.45" ry="9.5" fill="#48C0AC" stroke="#000" stroke-width="2.6"/>
<rect x="844.10" y="396.90" width="3.8" height="3.6" fill="#000"/>
<ellipse cx="868.80" cy="418.00" rx="10.45" ry="9.5" fill="#48C0AC" stroke="#000" stroke-width="2.6"/>
<rect x="866.90" y="416.20" width="3.8" height="3.6" fill="#000"/>
<ellipse cx="879.60" cy="387.90" rx="10.45" ry="9.5" fill="#48C0AC" stroke="#000" stroke-width="2.6"/>
<rect x="877.70" y="386.10" width="3.8" height="3.6" fill="#000"/>
<ellipse cx="857.70" cy="398.10" rx="10.45" ry="9.5" fill="#48C0AC" stroke="#000" stroke-width="2.6"/>
<rect x="855.80" y="396.30" width="3.8" height="3.6" fill="#000"/>
<ellipse cx="857.70" cy="418.30" rx="10.45" ry="9.5" fill="#48C0AC" stroke="#000" stroke-width="2.6"/>
<rect x="855.80" y="416.50" width="3.8" height="3.6" fill="#000"/>
<ellipse cx="879.60" cy="415.90" rx="10.45" ry="9.5" fill="#48C0AC" stroke="#000" stroke-width="2.6"/>
<rect x="877.70" y="414.10" width="3.8" height="3.6" fill="#000"/>
<ellipse cx="868.80" cy="455.00" rx="10.45" ry="9.5" fill="#48C0AC" stroke="#000" stroke-width="2.6"/>
<rect x="866.90" y="453.20" width="3.8" height="3.6" fill="#000"/>
<ellipse cx="857.70" cy="444.40" rx="10.45" ry="9.5" fill="#48C0AC" stroke="#000" stroke-width="2.6"/>
<rect x="855.80" y="442.60" width="3.8" height="3.6" fill="#000"/>
<ellipse cx="857.70" cy="471.20" rx="10.45" ry="9.5" fill="#48C0AC" stroke="#000" stroke-width="2.6"/>
<rect x="855.80" y="469.40" width="3.8" height="3.6" fill="#000"/>
<ellipse cx="868.80" cy="495.80" rx="10.45" ry="9.5" fill="#48C0AC" stroke="#000" stroke-width="2.6"/>
<rect x="866.90" y="494.00" width="3.8" height="3.6" fill="#000"/>
<ellipse cx="857.70" cy="498.40" rx="10.45" ry="9.5" fill="#48C0AC" stroke="#000" stroke-width="2.6"/>
<rect x="855.80" y="496.60" width="3.8" height="3.6" fill="#000"/>
<ellipse cx="863.10" cy="556.70" rx="10.45" ry="9.5" fill="#48C0AC" stroke="#000" stroke-width="2.6"/>
<rect x="861.20" y="554.90" width="3.8" height="3.6" fill="#000"/>
<ellipse cx="863.10" cy="580.50" rx="10.45" ry="9.5" fill="#48C0AC" stroke="#000" stroke-width="2.6"/>
<rect x="861.20" y="578.70" width="3.8" height="3.6" fill="#000"/>
<ellipse cx="943.70" cy="334.00" rx="10.45" ry="9.5" fill="#E058FA" stroke="#000" stroke-width="2.6"/>
<rect x="941.80" y="332.20" width="3.8" height="3.6" fill="#000"/>
<ellipse cx="943.70" cy="367.20" rx="10.45" ry="9.5" fill="#E058FA" stroke="#000" stroke-width="2.6"/>
<rect x="941.80" y="365.40" width="3.8" height="3.6" fill="#000"/>
<ellipse cx="938.30" cy="390.30" rx="10.45" ry="9.5" fill="#E058FA" stroke="#000" stroke-width="2.6"/>
<rect x="936.40" y="388.50" width="3.8" height="3.6" fill="#000"/>
<ellipse cx="942.00" cy="402.30" rx="10.45" ry="9.5" fill="#E058FA" stroke="#000" stroke-width="2.6"/>
<rect x="940.10" y="400.50" width="3.8" height="3.6" fill="#000"/>
<ellipse cx="927.30" cy="388.50" rx="10.45" ry="9.5" fill="#E058FA" stroke="#000" stroke-width="2.6"/>
<rect x="925.40" y="386.70" width="3.8" height="3.6" fill="#000"/>
<ellipse cx="952.10" cy="403.50" rx="10.45" ry="9.5" fill="#E058FA" stroke="#000" stroke-width="2.6"/>
<rect x="950.20" y="401.70" width="3.8" height="3.6" fill="#000"/>
<ellipse cx="952.70" cy="448.40" rx="10.45" ry="9.5" fill="#E058FA" stroke="#000" stroke-width="2.6"/>
<rect x="950.80" y="446.60" width="3.8" height="3.6" fill="#000"/>
<ellipse cx="935.30" cy="433.10" rx="10.45" ry="9.5" fill="#E058FA" stroke="#000" stroke-width="2.6"/>
<rect x="933.40" y="431.30" width="3.8" height="3.6" fill="#000"/>
<ellipse cx="943.70" cy="452.30" rx="10.45" ry="9.5" fill="#E058FA" stroke="#000" stroke-width="2.6"/>
<rect x="941.80" y="450.50" width="3.8" height="3.6" fill="#000"/>
<ellipse cx="935.30" cy="463.70" rx="10.45" ry="9.5" fill="#E058FA" stroke="#000" stroke-width="2.6"/>
<rect x="933.40" y="461.90" width="3.8" height="3.6" fill="#000"/>
<ellipse cx="952.10" cy="477.80" rx="10.45" ry="9.5" fill="#E058FA" stroke="#000" stroke-width="2.6"/>
<rect x="950.20" y="476.00" width="3.8" height="3.6" fill="#000"/>
<ellipse cx="936.50" cy="484.40" rx="10.45" ry="9.5" fill="#E058FA" stroke="#000" stroke-width="2.6"/>
<rect x="934.60" y="482.60" width="3.8" height="3.6" fill="#000"/>
<ellipse cx="959.90" cy="470.60" rx="10.45" ry="9.5" fill="#E058FA" stroke="#000" stroke-width="2.6"/>
<rect x="958.00" y="468.80" width="3.8" height="3.6" fill="#000"/>
<ellipse cx="943.10" cy="505.40" rx="10.45" ry="9.5" fill="#E058FA" stroke="#000" stroke-width="2.6"/>
<rect x="941.20" y="503.60" width="3.8" height="3.6" fill="#000"/>
<ellipse cx="927.30" cy="492.40" rx="10.45" ry="9.5" fill="#E058FA" stroke="#000" stroke-width="2.6"/>
<rect x="925.40" y="490.60" width="3.8" height="3.6" fill="#000"/>
<ellipse cx="959.90" cy="494.00" rx="10.45" ry="9.5" fill="#E058FA" stroke="#000" stroke-width="2.6"/>
<rect x="958.00" y="492.20" width="3.8" height="3.6" fill="#000"/>
<ellipse cx="952.10" cy="504.50" rx="10.45" ry="9.5" fill="#E058FA" stroke="#000" stroke-width="2.6"/>
<rect x="950.20" y="502.70" width="3.8" height="3.6" fill="#000"/>
<ellipse cx="948.50" cy="546.10" rx="10.45" ry="9.5" fill="#E058FA" stroke="#000" stroke-width="2.6"/>
<rect x="946.60" y="544.30" width="3.8" height="3.6" fill="#000"/>
<ellipse cx="952.10" cy="536.00" rx="10.45" ry="9.5" fill="#E058FA" stroke="#000" stroke-width="2.6"/>
<rect x="950.20" y="534.20" width="3.8" height="3.6" fill="#000"/>
<ellipse cx="935.30" cy="544.70" rx="10.45" ry="9.5" fill="#E058FA" stroke="#000" stroke-width="2.6"/>
<rect x="933.40" y="542.90" width="3.8" height="3.6" fill="#000"/>
<ellipse cx="952.10" cy="560.50" rx="10.45" ry="9.5" fill="#E058FA" stroke="#000" stroke-width="2.6"/>
<rect x="950.20" y="558.70" width="3.8" height="3.6" fill="#000"/>
<ellipse cx="943.70" cy="573.00" rx="10.45" ry="9.5" fill="#E058FA" stroke="#000" stroke-width="2.6"/>
<rect x="941.80" y="571.20" width="3.8" height="3.6" fill="#000"/>
<ellipse cx="943.70" cy="750.60" rx="10.45" ry="9.5" fill="#E058FA" stroke="#000" stroke-width="2.6"/>
<rect x="941.80" y="748.80" width="3.8" height="3.6" fill="#000"/>
<ellipse cx="1006.60" cy="468.50" rx="10.45" ry="9.5" fill="#7B5A57" stroke="#000" stroke-width="2.6"/>
<rect x="1004.70" y="466.70" width="3.8" height="3.6" fill="#000"/>
<ellipse cx="1012.60" cy="465.50" rx="10.45" ry="9.5" fill="#7B5A57" stroke="#000" stroke-width="2.6"/>
<rect x="1010.70" y="463.70" width="3.8" height="3.6" fill="#000"/>
<ellipse cx="1019.80" cy="460.70" rx="10.45" ry="9.5" fill="#7B5A57" stroke="#000" stroke-width="2.6"/>
<rect x="1017.90" y="458.90" width="3.8" height="3.6" fill="#000"/>
<ellipse cx="1028.20" cy="480.00" rx="10.45" ry="9.5" fill="#7B5A57" stroke="#000" stroke-width="2.6"/>
<rect x="1026.30" y="478.20" width="3.8" height="3.6" fill="#000"/>
<ellipse cx="1033.00" cy="504.50" rx="10.45" ry="9.5" fill="#7B5A57" stroke="#000" stroke-width="2.6"/>
<rect x="1031.10" y="502.70" width="3.8" height="3.6" fill="#000"/>
<ellipse cx="1024.00" cy="384.30" rx="10.45" ry="9.5" fill="#7B5A57" stroke="#000" stroke-width="2.6"/>
<rect x="1022.10" y="382.50" width="3.8" height="3.6" fill="#000"/>
<ellipse cx="1024.00" cy="434.40" rx="10.45" ry="9.5" fill="#7B5A57" stroke="#000" stroke-width="2.6"/>
<rect x="1022.10" y="432.60" width="3.8" height="3.6" fill="#000"/>
<ellipse cx="1024.00" cy="447.30" rx="10.45" ry="9.5" fill="#7B5A57" stroke="#000" stroke-width="2.6"/>
<rect x="1022.10" y="445.50" width="3.8" height="3.6" fill="#000"/>
<ellipse cx="1040.80" cy="464.30" rx="10.45" ry="9.5" fill="#7B5A57" stroke="#000" stroke-width="2.6"/>
<rect x="1038.90" y="462.50" width="3.8" height="3.6" fill="#000"/>
<ellipse cx="1027.00" cy="466.10" rx="10.45" ry="9.5" fill="#7B5A57" stroke="#000" stroke-width="2.6"/>
<rect x="1025.10" y="464.30" width="3.8" height="3.6" fill="#000"/>
<ellipse cx="1021.00" cy="482.60" rx="10.45" ry="9.5" fill="#7B5A57" stroke="#000" stroke-width="2.6"/>
<rect x="1019.10" y="480.80" width="3.8" height="3.6" fill="#000"/>
<ellipse cx="1017.40" cy="497.30" rx="10.45" ry="9.5" fill="#7B5A57" stroke="#000" stroke-width="2.6"/>
<rect x="1015.50" y="495.50" width="3.8" height="3.6" fill="#000"/>
<ellipse cx="1024.00" cy="510.50" rx="10.45" ry="9.5" fill="#7B5A57" stroke="#000" stroke-width="2.6"/>
<rect x="1022.10" y="508.70" width="3.8" height="3.6" fill="#000"/>
<ellipse cx="1024.00" cy="535.00" rx="10.45" ry="9.5" fill="#7B5A57" stroke="#000" stroke-width="2.6"/>
<rect x="1022.10" y="533.20" width="3.8" height="3.6" fill="#000"/>
<ellipse cx="1024.00" cy="553.10" rx="10.45" ry="9.5" fill="#7B5A57" stroke="#000" stroke-width="2.6"/>
<rect x="1022.10" y="551.30" width="3.8" height="3.6" fill="#000"/>
<ellipse cx="1017.40" cy="571.40" rx="10.45" ry="9.5" fill="#7B5A57" stroke="#000" stroke-width="2.6"/>
<rect x="1015.50" y="569.60" width="3.8" height="3.6" fill="#000"/>
<ellipse cx="1030.60" cy="567.80" rx="10.45" ry="9.5" fill="#7B5A57" stroke="#000" stroke-width="2.6"/>
<rect x="1028.70" y="566.00" width="3.8" height="3.6" fill="#000"/>
<ellipse cx="1104.30" cy="530.00" rx="10.45" ry="9.5" fill="#449BE6" stroke="#000" stroke-width="2.6"/>
<rect x="1102.40" y="528.20" width="3.8" height="3.6" fill="#000"/>
<ellipse cx="1121.70" cy="528.20" rx="10.45" ry="9.5" fill="#449BE6" stroke="#000" stroke-width="2.6"/>
<rect x="1119.80" y="526.40" width="3.8" height="3.6" fill="#000"/>
<ellipse cx="1087.50" cy="603.70" rx="10.45" ry="9.5" fill="#449BE6" stroke="#000" stroke-width="2.6"/>
<rect x="1085.60" y="601.90" width="3.8" height="3.6" fill="#000"/>
<ellipse cx="1096.00" cy="611.00" rx="10.45" ry="9.5" fill="#449BE6" stroke="#000" stroke-width="2.6"/>
<rect x="1094.10" y="609.20" width="3.8" height="3.6" fill="#000"/>
<ellipse cx="1121.70" cy="617.00" rx="10.45" ry="9.5" fill="#449BE6" stroke="#000" stroke-width="2.6"/>
<rect x="1119.80" y="615.20" width="3.8" height="3.6" fill="#000"/>
<ellipse cx="1100.10" cy="750.70" rx="10.45" ry="9.5" fill="#449BE6" stroke="#000" stroke-width="2.6"/>
<rect x="1098.20" y="748.90" width="3.8" height="3.6" fill="#000"/>
<ellipse cx="1104.30" cy="430.20" rx="10.45" ry="9.5" fill="#449BE6" stroke="#000" stroke-width="2.6"/>
<rect x="1102.40" y="428.40" width="3.8" height="3.6" fill="#000"/>
<ellipse cx="1104.30" cy="465.90" rx="10.45" ry="9.5" fill="#449BE6" stroke="#000" stroke-width="2.6"/>
<rect x="1102.40" y="464.10" width="3.8" height="3.6" fill="#000"/>
<ellipse cx="1100.10" cy="488.90" rx="10.45" ry="9.5" fill="#449BE6" stroke="#000" stroke-width="2.6"/>
<rect x="1098.20" y="487.10" width="3.8" height="3.6" fill="#000"/>
<ellipse cx="1108.50" cy="502.50" rx="10.45" ry="9.5" fill="#449BE6" stroke="#000" stroke-width="2.6"/>
<rect x="1106.60" y="500.70" width="3.8" height="3.6" fill="#000"/>
<ellipse cx="1088.10" cy="526.10" rx="10.45" ry="9.5" fill="#449BE6" stroke="#000" stroke-width="2.6"/>
<rect x="1086.20" y="524.30" width="3.8" height="3.6" fill="#000"/>
<ellipse cx="1096.00" cy="539.30" rx="10.45" ry="9.5" fill="#449BE6" stroke="#000" stroke-width="2.6"/>
<rect x="1094.10" y="537.50" width="3.8" height="3.6" fill="#000"/>
<ellipse cx="1112.40" cy="535.70" rx="10.45" ry="9.5" fill="#449BE6" stroke="#000" stroke-width="2.6"/>
<rect x="1110.50" y="533.90" width="3.8" height="3.6" fill="#000"/>
<ellipse cx="1096.00" cy="564.50" rx="10.45" ry="9.5" fill="#449BE6" stroke="#000" stroke-width="2.6"/>
<rect x="1094.10" y="562.70" width="3.8" height="3.6" fill="#000"/>
<ellipse cx="1112.40" cy="569.30" rx="10.45" ry="9.5" fill="#449BE6" stroke="#000" stroke-width="2.6"/>
<rect x="1110.50" y="567.50" width="3.8" height="3.6" fill="#000"/>
<ellipse cx="1088.10" cy="580.10" rx="10.45" ry="9.5" fill="#449BE6" stroke="#000" stroke-width="2.6"/>
<rect x="1086.20" y="578.30" width="3.8" height="3.6" fill="#000"/>
<ellipse cx="1120.50" cy="591.20" rx="10.45" ry="9.5" fill="#449BE6" stroke="#000" stroke-width="2.6"/>
<rect x="1118.60" y="589.40" width="3.8" height="3.6" fill="#000"/>
<ellipse cx="1104.30" cy="600.50" rx="10.45" ry="9.5" fill="#449BE6" stroke="#000" stroke-width="2.6"/>
<rect x="1102.40" y="598.70" width="3.8" height="3.6" fill="#000"/>
<ellipse cx="1112.40" cy="624.10" rx="10.45" ry="9.5" fill="#449BE6" stroke="#000" stroke-width="2.6"/>
<rect x="1110.50" y="622.30" width="3.8" height="3.6" fill="#000"/>
<ellipse cx="1096.00" cy="631.30" rx="10.45" ry="9.5" fill="#449BE6" stroke="#000" stroke-width="2.6"/>
<rect x="1094.10" y="629.50" width="3.8" height="3.6" fill="#000"/>
<ellipse cx="1104.30" cy="644.50" rx="10.45" ry="9.5" fill="#449BE6" stroke="#000" stroke-width="2.6"/>
<rect x="1102.40" y="642.70" width="3.8" height="3.6" fill="#000"/>
<ellipse cx="1104.30" cy="684.80" rx="10.45" ry="9.5" fill="#449BE6" stroke="#000" stroke-width="2.6"/>
<rect x="1102.40" y="683.00" width="3.8" height="3.6" fill="#000"/>
<ellipse cx="1108.30" cy="750.50" rx="10.45" ry="9.5" fill="#449BE6" stroke="#000" stroke-width="2.6"/>
<rect x="1106.40" y="748.70" width="3.8" height="3.6" fill="#000"/>
<ellipse cx="1193.00" cy="463.60" rx="10.45" ry="9.5" fill="#BCCC68" stroke="#000" stroke-width="2.6"/>
<rect x="1191.10" y="461.80" width="3.8" height="3.6" fill="#000"/>
<ellipse cx="1167.20" cy="486.40" rx="10.45" ry="9.5" fill="#BCCC68" stroke="#000" stroke-width="2.6"/>
<rect x="1165.30" y="484.60" width="3.8" height="3.6" fill="#000"/>
<ellipse cx="1176.20" cy="491.80" rx="10.45" ry="9.5" fill="#BCCC68" stroke="#000" stroke-width="2.6"/>
<rect x="1174.30" y="490.00" width="3.8" height="3.6" fill="#000"/>
<ellipse cx="1193.00" cy="508.50" rx="10.45" ry="9.5" fill="#BCCC68" stroke="#000" stroke-width="2.6"/>
<rect x="1191.10" y="506.70" width="3.8" height="3.6" fill="#000"/>
<ellipse cx="1167.20" cy="519.30" rx="10.45" ry="9.5" fill="#BCCC68" stroke="#000" stroke-width="2.6"/>
<rect x="1165.30" y="517.50" width="3.8" height="3.6" fill="#000"/>
<ellipse cx="1175.00" cy="534.90" rx="10.45" ry="9.5" fill="#BCCC68" stroke="#000" stroke-width="2.6"/>
<rect x="1173.10" y="533.10" width="3.8" height="3.6" fill="#000"/>
<ellipse cx="1167.80" cy="573.60" rx="10.45" ry="9.5" fill="#BCCC68" stroke="#000" stroke-width="2.6"/>
<rect x="1165.90" y="571.80" width="3.8" height="3.6" fill="#000"/>
<ellipse cx="1190.60" cy="579.60" rx="10.45" ry="9.5" fill="#BCCC68" stroke="#000" stroke-width="2.6"/>
<rect x="1188.70" y="577.80" width="3.8" height="3.6" fill="#000"/>
<ellipse cx="1176.20" cy="601.20" rx="10.45" ry="9.5" fill="#BCCC68" stroke="#000" stroke-width="2.6"/>
<rect x="1174.30" y="599.40" width="3.8" height="3.6" fill="#000"/>
<ellipse cx="1201.40" cy="600.60" rx="10.45" ry="9.5" fill="#BCCC68" stroke="#000" stroke-width="2.6"/>
<rect x="1199.50" y="598.80" width="3.8" height="3.6" fill="#000"/>
<ellipse cx="1176.20" cy="631.40" rx="10.45" ry="9.5" fill="#BCCC68" stroke="#000" stroke-width="2.6"/>
<rect x="1174.30" y="629.60" width="3.8" height="3.6" fill="#000"/>
<ellipse cx="1184.60" cy="619.20" rx="10.45" ry="9.5" fill="#BCCC68" stroke="#000" stroke-width="2.6"/>
<rect x="1182.70" y="617.40" width="3.8" height="3.6" fill="#000"/>
<ellipse cx="1184.60" cy="468.10" rx="10.45" ry="9.5" fill="#BCCC68" stroke="#000" stroke-width="2.6"/>
<rect x="1182.70" y="466.30" width="3.8" height="3.6" fill="#000"/>
<ellipse cx="1184.60" cy="498.40" rx="10.45" ry="9.5" fill="#BCCC68" stroke="#000" stroke-width="2.6"/>
<rect x="1182.70" y="496.60" width="3.8" height="3.6" fill="#000"/>
<ellipse cx="1200.80" cy="508.50" rx="10.45" ry="9.5" fill="#BCCC68" stroke="#000" stroke-width="2.6"/>
<rect x="1198.90" y="506.70" width="3.8" height="3.6" fill="#000"/>
<ellipse cx="1176.40" cy="511.30" rx="10.45" ry="9.5" fill="#BCCC68" stroke="#000" stroke-width="2.6"/>
<rect x="1174.50" y="509.50" width="3.8" height="3.6" fill="#000"/>
<ellipse cx="1184.60" cy="531.70" rx="10.45" ry="9.5" fill="#BCCC68" stroke="#000" stroke-width="2.6"/>
<rect x="1182.70" y="529.90" width="3.8" height="3.6" fill="#000"/>
<ellipse cx="1193.00" cy="556.00" rx="10.45" ry="9.5" fill="#BCCC68" stroke="#000" stroke-width="2.6"/>
<rect x="1191.10" y="554.20" width="3.8" height="3.6" fill="#000"/>
<ellipse cx="1176.40" cy="562.50" rx="10.45" ry="9.5" fill="#BCCC68" stroke="#000" stroke-width="2.6"/>
<rect x="1174.50" y="560.70" width="3.8" height="3.6" fill="#000"/>
<ellipse cx="1200.80" cy="573.60" rx="10.45" ry="9.5" fill="#BCCC68" stroke="#000" stroke-width="2.6"/>
<rect x="1198.90" y="571.80" width="3.8" height="3.6" fill="#000"/>
<ellipse cx="1184.60" cy="589.20" rx="10.45" ry="9.5" fill="#BCCC68" stroke="#000" stroke-width="2.6"/>
<rect x="1182.70" y="587.40" width="3.8" height="3.6" fill="#000"/>
<ellipse cx="1192.70" cy="608.40" rx="10.45" ry="9.5" fill="#BCCC68" stroke="#000" stroke-width="2.6"/>
<rect x="1190.80" y="606.60" width="3.8" height="3.6" fill="#000"/>
<ellipse cx="1192.70" cy="635.40" rx="10.45" ry="9.5" fill="#BCCC68" stroke="#000" stroke-width="2.6"/>
<rect x="1190.80" y="633.60" width="3.8" height="3.6" fill="#000"/>
<ellipse cx="1184.80" cy="682.00" rx="10.45" ry="9.5" fill="#BCCC68" stroke="#000" stroke-width="2.6"/>
<rect x="1182.90" y="680.20" width="3.8" height="3.6" fill="#000"/>
<ellipse cx="1184.80" cy="750.40" rx="10.45" ry="9.5" fill="#BCCC68" stroke="#000" stroke-width="2.6"/>
<rect x="1182.90" y="748.60" width="3.8" height="3.6" fill="#000"/>
<ellipse cx="1264.70" cy="550.80" rx="10.45" ry="9.5" fill="#C2D3CD" stroke="#000" stroke-width="2.6"/>
<rect x="1262.80" y="549.00" width="3.8" height="3.6" fill="#000"/>
<ellipse cx="1259.50" cy="576.00" rx="10.45" ry="9.5" fill="#C2D3CD" stroke="#000" stroke-width="2.6"/>
<rect x="1257.60" y="574.20" width="3.8" height="3.6" fill="#000"/>
<ellipse cx="1282.30" cy="591.60" rx="10.45" ry="9.5" fill="#C2D3CD" stroke="#000" stroke-width="2.6"/>
<rect x="1280.40" y="589.80" width="3.8" height="3.6" fill="#000"/>
<ellipse cx="1248.70" cy="609.30" rx="10.45" ry="9.5" fill="#C2D3CD" stroke="#000" stroke-width="2.6"/>
<rect x="1246.80" y="607.50" width="3.8" height="3.6" fill="#000"/>
<ellipse cx="1281.70" cy="631.20" rx="10.45" ry="9.5" fill="#C2D3CD" stroke="#000" stroke-width="2.6"/>
<rect x="1279.80" y="629.40" width="3.8" height="3.6" fill="#000"/>
<ellipse cx="1248.10" cy="635.40" rx="10.45" ry="9.5" fill="#C2D3CD" stroke="#000" stroke-width="2.6"/>
<rect x="1246.20" y="633.60" width="3.8" height="3.6" fill="#000"/>
<ellipse cx="1270.70" cy="670.80" rx="10.45" ry="9.5" fill="#C2D3CD" stroke="#000" stroke-width="2.6"/>
<rect x="1268.80" y="669.00" width="3.8" height="3.6" fill="#000"/>
<ellipse cx="1270.50" cy="697.50" rx="10.45" ry="9.5" fill="#C2D3CD" stroke="#000" stroke-width="2.6"/>
<rect x="1268.60" y="695.70" width="3.8" height="3.6" fill="#000"/>
<ellipse cx="1259.40" cy="750.40" rx="10.45" ry="9.5" fill="#C2D3CD" stroke="#000" stroke-width="2.6"/>
<rect x="1257.50" y="748.60" width="3.8" height="3.6" fill="#000"/>
<ellipse cx="1264.70" cy="421.30" rx="10.45" ry="9.5" fill="#C2D3CD" stroke="#000" stroke-width="2.6"/>
<rect x="1262.80" y="419.50" width="3.8" height="3.6" fill="#000"/>
<ellipse cx="1264.70" cy="487.30" rx="10.45" ry="9.5" fill="#C2D3CD" stroke="#000" stroke-width="2.6"/>
<rect x="1262.80" y="485.50" width="3.8" height="3.6" fill="#000"/>
<ellipse cx="1264.70" cy="510.10" rx="10.45" ry="9.5" fill="#C2D3CD" stroke="#000" stroke-width="2.6"/>
<rect x="1262.80" y="508.30" width="3.8" height="3.6" fill="#000"/>
<ellipse cx="1253.90" cy="556.80" rx="10.45" ry="9.5" fill="#C2D3CD" stroke="#000" stroke-width="2.6"/>
<rect x="1252.00" y="555.00" width="3.8" height="3.6" fill="#000"/>
<ellipse cx="1275.50" cy="557.40" rx="10.45" ry="9.5" fill="#C2D3CD" stroke="#000" stroke-width="2.6"/>
<rect x="1273.60" y="555.60" width="3.8" height="3.6" fill="#000"/>
<ellipse cx="1248.70" cy="585.60" rx="10.45" ry="9.5" fill="#C2D3CD" stroke="#000" stroke-width="2.6"/>
<rect x="1246.80" y="583.80" width="3.8" height="3.6" fill="#000"/>
<ellipse cx="1270.30" cy="591.00" rx="10.45" ry="9.5" fill="#C2D3CD" stroke="#000" stroke-width="2.6"/>
<rect x="1268.40" y="589.20" width="3.8" height="3.6" fill="#000"/>
<ellipse cx="1259.50" cy="599.40" rx="10.45" ry="9.5" fill="#C2D3CD" stroke="#000" stroke-width="2.6"/>
<rect x="1257.60" y="597.60" width="3.8" height="3.6" fill="#000"/>
<ellipse cx="1270.30" cy="625.20" rx="10.45" ry="9.5" fill="#C2D3CD" stroke="#000" stroke-width="2.6"/>
<rect x="1268.40" y="623.40" width="3.8" height="3.6" fill="#000"/>
<ellipse cx="1259.50" cy="642.00" rx="10.45" ry="9.5" fill="#C2D3CD" stroke="#000" stroke-width="2.6"/>
<rect x="1257.60" y="640.20" width="3.8" height="3.6" fill="#000"/>
<ellipse cx="1259.40" cy="670.80" rx="10.45" ry="9.5" fill="#C2D3CD" stroke="#000" stroke-width="2.6"/>
<rect x="1257.50" y="669.00" width="3.8" height="3.6" fill="#000"/>
<ellipse cx="1259.40" cy="704.50" rx="10.45" ry="9.5" fill="#C2D3CD" stroke="#000" stroke-width="2.6"/>
<rect x="1257.50" y="702.70" width="3.8" height="3.6" fill="#000"/>
<ellipse cx="1270.20" cy="750.40" rx="10.45" ry="9.5" fill="#C2D3CD" stroke="#000" stroke-width="2.6"/>
<rect x="1268.30" y="748.60" width="3.8" height="3.6" fill="#000"/>
<path d="M160.30,1622.40H607.30" stroke="#000" stroke-width="2.3" stroke-dasharray="4.1 2.15"/>
<path d="M152.30,1095.50H161.50V1665.50M152.20,1665.50H609.00" stroke="#000" stroke-width="1.2" fill="none" stroke-linejoin="round"/>
<text transform="translate(90.12,1101.26) scale(1.082,1)" font-size="16.5" stroke="#000" stroke-width="0.3">100000</text>
<line x1="152.30" y1="1238.00" x2="161.50" y2="1238.00" stroke="#000" stroke-width="1.2" stroke-linecap="butt"/>
<text transform="translate(100.05,1243.76) scale(1.082,1)" font-size="16.5" stroke="#000" stroke-width="0.3">10000</text>
<line x1="152.30" y1="1380.50" x2="161.50" y2="1380.50" stroke="#000" stroke-width="1.2" stroke-linecap="butt"/>
<text transform="translate(109.99,1386.26) scale(1.082,1)" font-size="16.5" stroke="#000" stroke-width="0.3">1000</text>
<line x1="152.30" y1="1523.00" x2="161.50" y2="1523.00" stroke="#000" stroke-width="1.2" stroke-linecap="butt"/>
<text transform="translate(119.92,1528.76) scale(1.082,1)" font-size="16.5" stroke="#000" stroke-width="0.3">100</text>
<text transform="translate(129.84,1671.26) scale(1.082,1)" font-size="16.5" stroke="#000" stroke-width="0.3">10</text>
<line x1="208.60" y1="1665.50" x2="208.60" y2="1674.50" stroke="#000" stroke-width="1.2" stroke-linecap="butt"/>
<line x1="279.20" y1="1665.50" x2="279.20" y2="1674.50" stroke="#000" stroke-width="1.2" stroke-linecap="butt"/>
<line x1="349.60" y1="1665.50" x2="349.60" y2="1674.50" stroke="#000" stroke-width="1.2" stroke-linecap="butt"/>
<line x1="420.50" y1="1665.50" x2="420.50" y2="1674.50" stroke="#000" stroke-width="1.2" stroke-linecap="butt"/>
<line x1="490.90" y1="1665.50" x2="490.90" y2="1674.50" stroke="#000" stroke-width="1.2" stroke-linecap="butt"/>
<line x1="561.60" y1="1665.50" x2="561.60" y2="1674.50" stroke="#000" stroke-width="1.2" stroke-linecap="butt"/>
<text transform="translate(193.49,1693.30) scale(1.0290,1)" font-size="17.58" font-weight="bold">+ve</text>
<text transform="translate(263.70,1693.30) scale(1.0130,1)" font-size="17.84" font-weight="bold">-ve</text>
<text transform="translate(334.49,1693.30) scale(1.0290,1)" font-size="17.58" font-weight="bold">+ve</text>
<text transform="translate(405.00,1693.30) scale(1.0130,1)" font-size="17.84" font-weight="bold">-ve</text>
<text transform="translate(475.79,1693.30) scale(1.0290,1)" font-size="17.58" font-weight="bold">+ve</text>
<text transform="translate(546.10,1693.30) scale(1.0130,1)" font-size="17.84" font-weight="bold">-ve</text>
<line x1="546.80" y1="1696.20" x2="571.60" y2="1696.20" stroke="#000" stroke-width="1.5" stroke-linecap="butt"/>
<text transform="translate(219.58,1739.60) scale(0.9619,1)" font-size="25.87" font-weight="bold">WT</text>
<text transform="translate(344.83,1739.60) scale(0.9688,1)" font-size="25.79" font-weight="bold">Delta</text>
<text transform="translate(465.36,1739.60) scale(0.9854,1)" font-size="25.79" font-weight="bold">Omicron</text>
<line x1="195.65" y1="1749.90" x2="282.15" y2="1749.90" stroke="#000" stroke-width="3.5" stroke-linecap="round"/>
<line x1="332.75" y1="1749.80" x2="419.25" y2="1749.80" stroke="#000" stroke-width="3.5" stroke-linecap="round"/>
<line x1="474.45" y1="1749.80" x2="560.35" y2="1749.80" stroke="#000" stroke-width="3.5" stroke-linecap="round"/>
<text transform="translate(74.50,1507.60) rotate(-90) scale(0.9294,1)" font-size="19.9" stroke="#000" stroke-width="0.4" x="-0.92">Serum neutralization titre (ID<tspan font-size="15.32" dy="6.67">50</tspan><tspan dy="-6.67">)</tspan></text>
<text transform="translate(347.22,949.50) scale(0.9464,1)" font-size="44.83" font-weight="normal">Baseline</text>
<rect x="185.30" y="1517.20" width="47.00" height="4.8" fill="#000"/>
<rect x="256.00" y="1572.00" width="46.80" height="4.8" fill="#000"/>
<rect x="326.30" y="1552.20" width="47.00" height="4.8" fill="#000"/>
<rect x="397.10" y="1593.60" width="46.70" height="4.8" fill="#000"/>
<rect x="467.90" y="1597.80" width="46.70" height="4.8" fill="#000"/>
<rect x="538.20" y="1595.00" width="47.20" height="4.8" fill="#000"/>
<path d="M282.40,1080.70H560.90" stroke="#000" stroke-width="3.0"/>
<path d="M282.40,1074.20V1087.20M560.90,1074.20V1087.20" stroke="#000" stroke-width="3.4" stroke-linecap="round"/>
<text transform="translate(411.63,1069.70) scale(0.9520,1)" font-size="20.26" font-weight="normal" stroke="#000" stroke-width="0.25">ns</text>
<path d="M419.20,1115.00H560.90" stroke="#000" stroke-width="3.0"/>
<path d="M419.20,1108.50V1121.50M560.90,1108.50V1121.50" stroke="#000" stroke-width="3.4" stroke-linecap="round"/>
<text transform="translate(479.93,1104.00) scale(0.9520,1)" font-size="20.26" font-weight="normal" stroke="#000" stroke-width="0.25">ns</text>
<path d="M282.40,1164.80H419.20" stroke="#000" stroke-width="3.0"/>
<path d="M282.40,1158.30V1171.30M419.20,1158.30V1171.30" stroke="#000" stroke-width="3.4" stroke-linecap="round"/>
<text transform="translate(340.13,1153.80) scale(0.9520,1)" font-size="20.26" font-weight="normal" stroke="#000" stroke-width="0.25">ns</text>
<path d="M205.50,1218.00H282.30" stroke="#000" stroke-width="3.0"/>
<path d="M205.50,1211.50V1224.50M282.30,1211.50V1224.50" stroke="#000" stroke-width="3.4" stroke-linecap="round"/>
<path d="M244.10,1195.40V1208.00M238.21,1198.30L249.99,1205.10M238.21,1205.10L249.99,1198.30" stroke="#000" stroke-width="3.2" fill="none"/>
<path d="M356.20,1248.80H424.10" stroke="#000" stroke-width="3.0"/>
<path d="M356.20,1242.30V1255.30M424.10,1242.30V1255.30" stroke="#000" stroke-width="3.4" stroke-linecap="round"/>
<path d="M389.60,1226.20V1238.80M383.71,1229.10L395.49,1235.90M383.71,1235.90L395.49,1229.10" stroke="#000" stroke-width="3.2" fill="none"/>
<path d="M487.80,1304.20H556.80" stroke="#000" stroke-width="3.0"/>
<path d="M487.80,1297.70V1310.70M556.80,1297.70V1310.70" stroke="#000" stroke-width="3.4" stroke-linecap="round"/>
<text transform="translate(511.83,1293.20) scale(0.9520,1)" font-size="20.26" font-weight="normal" stroke="#000" stroke-width="0.25">ns</text>
<ellipse cx="208.70" cy="1414.50" rx="9.2" ry="9.2" fill="#48C0AC" stroke="#000" stroke-width="2.4"/>
<rect x="206.90" y="1412.70" width="3.6" height="3.6" fill="#000"/>
<ellipse cx="215.80" cy="1438.70" rx="9.2" ry="9.2" fill="#48C0AC" stroke="#000" stroke-width="2.4"/>
<rect x="214.00" y="1436.90" width="3.6" height="3.6" fill="#000"/>
<ellipse cx="201.50" cy="1453.10" rx="9.2" ry="9.2" fill="#48C0AC" stroke="#000" stroke-width="2.4"/>
<rect x="199.70" y="1451.30" width="3.6" height="3.6" fill="#000"/>
<ellipse cx="208.70" cy="1474.40" rx="9.2" ry="9.2" fill="#48C0AC" stroke="#000" stroke-width="2.4"/>
<rect x="206.90" y="1472.60" width="3.6" height="3.6" fill="#000"/>
<ellipse cx="194.50" cy="1483.70" rx="9.2" ry="9.2" fill="#48C0AC" stroke="#000" stroke-width="2.4"/>
<rect x="192.70" y="1481.90" width="3.6" height="3.6" fill="#000"/>
<ellipse cx="208.70" cy="1498.00" rx="9.2" ry="9.2" fill="#48C0AC" stroke="#000" stroke-width="2.4"/>
<rect x="206.90" y="1496.20" width="3.6" height="3.6" fill="#000"/>
<ellipse cx="201.50" cy="1532.30" rx="9.2" ry="9.2" fill="#48C0AC" stroke="#000" stroke-width="2.4"/>
<rect x="199.70" y="1530.50" width="3.6" height="3.6" fill="#000"/>
<ellipse cx="215.80" cy="1533.00" rx="9.2" ry="9.2" fill="#48C0AC" stroke="#000" stroke-width="2.4"/>
<rect x="214.00" y="1531.20" width="3.6" height="3.6" fill="#000"/>
<ellipse cx="208.80" cy="1555.20" rx="9.2" ry="9.2" fill="#48C0AC" stroke="#000" stroke-width="2.4"/>
<rect x="207.00" y="1553.40" width="3.6" height="3.6" fill="#000"/>
<ellipse cx="194.40" cy="1560.90" rx="9.2" ry="9.2" fill="#48C0AC" stroke="#000" stroke-width="2.4"/>
<rect x="192.60" y="1559.10" width="3.6" height="3.6" fill="#000"/>
<ellipse cx="223.00" cy="1564.80" rx="9.2" ry="9.2" fill="#48C0AC" stroke="#000" stroke-width="2.4"/>
<rect x="221.20" y="1563.00" width="3.6" height="3.6" fill="#000"/>
<ellipse cx="201.50" cy="1622.40" rx="9.2" ry="9.2" fill="#48C0AC" stroke="#000" stroke-width="2.4"/>
<rect x="199.70" y="1620.60" width="3.6" height="3.6" fill="#000"/>
<ellipse cx="215.80" cy="1622.40" rx="9.2" ry="9.2" fill="#48C0AC" stroke="#000" stroke-width="2.4"/>
<rect x="214.00" y="1620.60" width="3.6" height="3.6" fill="#000"/>
<ellipse cx="280.20" cy="1462.70" rx="9.2" ry="9.2" fill="#E058FA" stroke="#000" stroke-width="2.4"/>
<rect x="278.40" y="1460.90" width="3.6" height="3.6" fill="#000"/>
<ellipse cx="279.10" cy="1470.60" rx="9.2" ry="9.2" fill="#E058FA" stroke="#000" stroke-width="2.4"/>
<rect x="277.30" y="1468.80" width="3.6" height="3.6" fill="#000"/>
<ellipse cx="277.00" cy="1481.00" rx="9.2" ry="9.2" fill="#E058FA" stroke="#000" stroke-width="2.4"/>
<rect x="275.20" y="1479.20" width="3.6" height="3.6" fill="#000"/>
<ellipse cx="281.20" cy="1475.80" rx="9.2" ry="9.2" fill="#E058FA" stroke="#000" stroke-width="2.4"/>
<rect x="279.40" y="1474.00" width="3.6" height="3.6" fill="#000"/>
<ellipse cx="282.30" cy="1492.10" rx="9.2" ry="9.2" fill="#E058FA" stroke="#000" stroke-width="2.4"/>
<rect x="280.50" y="1490.30" width="3.6" height="3.6" fill="#000"/>
<ellipse cx="279.10" cy="1443.60" rx="9.2" ry="9.2" fill="#E058FA" stroke="#000" stroke-width="2.4"/>
<rect x="277.30" y="1441.80" width="3.6" height="3.6" fill="#000"/>
<ellipse cx="279.10" cy="1477.90" rx="9.2" ry="9.2" fill="#E058FA" stroke="#000" stroke-width="2.4"/>
<rect x="277.30" y="1476.10" width="3.6" height="3.6" fill="#000"/>
<ellipse cx="279.10" cy="1503.60" rx="9.2" ry="9.2" fill="#E058FA" stroke="#000" stroke-width="2.4"/>
<rect x="277.30" y="1501.80" width="3.6" height="3.6" fill="#000"/>
<ellipse cx="278.60" cy="1529.40" rx="9.2" ry="9.2" fill="#E058FA" stroke="#000" stroke-width="2.4"/>
<rect x="276.80" y="1527.60" width="3.6" height="3.6" fill="#000"/>
<ellipse cx="280.20" cy="1518.30" rx="9.2" ry="9.2" fill="#E058FA" stroke="#000" stroke-width="2.4"/>
<rect x="278.40" y="1516.50" width="3.6" height="3.6" fill="#000"/>
<ellipse cx="278.60" cy="1585.10" rx="9.2" ry="9.2" fill="#E058FA" stroke="#000" stroke-width="2.4"/>
<rect x="276.80" y="1583.30" width="3.6" height="3.6" fill="#000"/>
<ellipse cx="266.50" cy="1606.00" rx="9.2" ry="9.2" fill="#E058FA" stroke="#000" stroke-width="2.4"/>
<rect x="264.70" y="1604.20" width="3.6" height="3.6" fill="#000"/>
<ellipse cx="279.10" cy="1600.80" rx="9.2" ry="9.2" fill="#E058FA" stroke="#000" stroke-width="2.4"/>
<rect x="277.30" y="1599.00" width="3.6" height="3.6" fill="#000"/>
<ellipse cx="281.80" cy="1594.00" rx="9.2" ry="9.2" fill="#E058FA" stroke="#000" stroke-width="2.4"/>
<rect x="280.00" y="1592.20" width="3.6" height="3.6" fill="#000"/>
<ellipse cx="293.60" cy="1622.40" rx="9.2" ry="9.2" fill="#E058FA" stroke="#000" stroke-width="2.4"/>
<rect x="291.80" y="1620.60" width="3.6" height="3.6" fill="#000"/>
<ellipse cx="289.50" cy="1622.40" rx="9.2" ry="9.2" fill="#E058FA" stroke="#000" stroke-width="2.4"/>
<rect x="287.70" y="1620.60" width="3.6" height="3.6" fill="#000"/>
<ellipse cx="283.00" cy="1622.40" rx="9.2" ry="9.2" fill="#E058FA" stroke="#000" stroke-width="2.4"/>
<rect x="281.20" y="1620.60" width="3.6" height="3.6" fill="#000"/>
<ellipse cx="264.50" cy="1622.40" rx="9.2" ry="9.2" fill="#E058FA" stroke="#000" stroke-width="2.4"/>
<rect x="262.70" y="1620.60" width="3.6" height="3.6" fill="#000"/>
<ellipse cx="267.00" cy="1622.40" rx="9.2" ry="9.2" fill="#E058FA" stroke="#000" stroke-width="2.4"/>
<rect x="265.20" y="1620.60" width="3.6" height="3.6" fill="#000"/>
<ellipse cx="272.00" cy="1622.40" rx="9.2" ry="9.2" fill="#E058FA" stroke="#000" stroke-width="2.4"/>
<rect x="270.20" y="1620.60" width="3.6" height="3.6" fill="#000"/>
<ellipse cx="345.20" cy="1592.90" rx="9.2" ry="9.2" fill="#7B5A57" stroke="#000" stroke-width="2.4"/>
<rect x="343.40" y="1591.10" width="3.6" height="3.6" fill="#000"/>
<ellipse cx="364.60" cy="1588.70" rx="9.2" ry="9.2" fill="#7B5A57" stroke="#000" stroke-width="2.4"/>
<rect x="362.80" y="1586.90" width="3.6" height="3.6" fill="#000"/>
<ellipse cx="349.70" cy="1400.10" rx="9.2" ry="9.2" fill="#7B5A57" stroke="#000" stroke-width="2.4"/>
<rect x="347.90" y="1398.30" width="3.6" height="3.6" fill="#000"/>
<ellipse cx="349.70" cy="1484.20" rx="9.2" ry="9.2" fill="#7B5A57" stroke="#000" stroke-width="2.4"/>
<rect x="347.90" y="1482.40" width="3.6" height="3.6" fill="#000"/>
<ellipse cx="344.90" cy="1504.60" rx="9.2" ry="9.2" fill="#7B5A57" stroke="#000" stroke-width="2.4"/>
<rect x="343.10" y="1502.80" width="3.6" height="3.6" fill="#000"/>
<ellipse cx="354.60" cy="1511.40" rx="9.2" ry="9.2" fill="#7B5A57" stroke="#000" stroke-width="2.4"/>
<rect x="352.80" y="1509.60" width="3.6" height="3.6" fill="#000"/>
<ellipse cx="344.90" cy="1526.80" rx="9.2" ry="9.2" fill="#7B5A57" stroke="#000" stroke-width="2.4"/>
<rect x="343.10" y="1525.00" width="3.6" height="3.6" fill="#000"/>
<ellipse cx="349.70" cy="1564.30" rx="9.2" ry="9.2" fill="#7B5A57" stroke="#000" stroke-width="2.4"/>
<rect x="347.90" y="1562.50" width="3.6" height="3.6" fill="#000"/>
<ellipse cx="335.50" cy="1585.80" rx="9.2" ry="9.2" fill="#7B5A57" stroke="#000" stroke-width="2.4"/>
<rect x="333.70" y="1584.00" width="3.6" height="3.6" fill="#000"/>
<ellipse cx="354.60" cy="1586.30" rx="9.2" ry="9.2" fill="#7B5A57" stroke="#000" stroke-width="2.4"/>
<rect x="352.80" y="1584.50" width="3.6" height="3.6" fill="#000"/>
<ellipse cx="339.90" cy="1622.50" rx="9.2" ry="9.2" fill="#7B5A57" stroke="#000" stroke-width="2.4"/>
<rect x="338.10" y="1620.70" width="3.6" height="3.6" fill="#000"/>
<ellipse cx="359.90" cy="1622.50" rx="9.2" ry="9.2" fill="#7B5A57" stroke="#000" stroke-width="2.4"/>
<rect x="358.10" y="1620.70" width="3.6" height="3.6" fill="#000"/>
<ellipse cx="349.70" cy="1622.50" rx="9.2" ry="9.2" fill="#7B5A57" stroke="#000" stroke-width="2.4"/>
<rect x="347.90" y="1620.70" width="3.6" height="3.6" fill="#000"/>
<ellipse cx="420.40" cy="1481.30" rx="9.2" ry="9.2" fill="#449BE6" stroke="#000" stroke-width="2.4"/>
<rect x="418.60" y="1479.50" width="3.6" height="3.6" fill="#000"/>
<ellipse cx="420.40" cy="1494.20" rx="9.2" ry="9.2" fill="#449BE6" stroke="#000" stroke-width="2.4"/>
<rect x="418.60" y="1492.40" width="3.6" height="3.6" fill="#000"/>
<ellipse cx="420.40" cy="1518.60" rx="9.2" ry="9.2" fill="#449BE6" stroke="#000" stroke-width="2.4"/>
<rect x="418.60" y="1516.80" width="3.6" height="3.6" fill="#000"/>
<ellipse cx="417.60" cy="1539.90" rx="9.2" ry="9.2" fill="#449BE6" stroke="#000" stroke-width="2.4"/>
<rect x="415.80" y="1538.10" width="3.6" height="3.6" fill="#000"/>
<ellipse cx="419.70" cy="1546.70" rx="9.2" ry="9.2" fill="#449BE6" stroke="#000" stroke-width="2.4"/>
<rect x="417.90" y="1544.90" width="3.6" height="3.6" fill="#000"/>
<ellipse cx="422.50" cy="1537.80" rx="9.2" ry="9.2" fill="#449BE6" stroke="#000" stroke-width="2.4"/>
<rect x="420.70" y="1536.00" width="3.6" height="3.6" fill="#000"/>
<ellipse cx="420.40" cy="1578.70" rx="9.2" ry="9.2" fill="#449BE6" stroke="#000" stroke-width="2.4"/>
<rect x="418.60" y="1576.90" width="3.6" height="3.6" fill="#000"/>
<ellipse cx="419.70" cy="1591.30" rx="9.2" ry="9.2" fill="#449BE6" stroke="#000" stroke-width="2.4"/>
<rect x="417.90" y="1589.50" width="3.6" height="3.6" fill="#000"/>
<ellipse cx="421.00" cy="1587.10" rx="9.2" ry="9.2" fill="#449BE6" stroke="#000" stroke-width="2.4"/>
<rect x="419.20" y="1585.30" width="3.6" height="3.6" fill="#000"/>
<ellipse cx="435.00" cy="1622.50" rx="9.2" ry="9.2" fill="#449BE6" stroke="#000" stroke-width="2.4"/>
<rect x="433.20" y="1620.70" width="3.6" height="3.6" fill="#000"/>
<ellipse cx="433.00" cy="1622.50" rx="9.2" ry="9.2" fill="#449BE6" stroke="#000" stroke-width="2.4"/>
<rect x="431.20" y="1620.70" width="3.6" height="3.6" fill="#000"/>
<ellipse cx="429.50" cy="1622.50" rx="9.2" ry="9.2" fill="#449BE6" stroke="#000" stroke-width="2.4"/>
<rect x="427.70" y="1620.70" width="3.6" height="3.6" fill="#000"/>
<ellipse cx="424.60" cy="1622.50" rx="9.2" ry="9.2" fill="#449BE6" stroke="#000" stroke-width="2.4"/>
<rect x="422.80" y="1620.70" width="3.6" height="3.6" fill="#000"/>
<ellipse cx="406.30" cy="1622.50" rx="9.2" ry="9.2" fill="#449BE6" stroke="#000" stroke-width="2.4"/>
<rect x="404.50" y="1620.70" width="3.6" height="3.6" fill="#000"/>
<ellipse cx="412.00" cy="1622.50" rx="9.2" ry="9.2" fill="#449BE6" stroke="#000" stroke-width="2.4"/>
<rect x="410.20" y="1620.70" width="3.6" height="3.6" fill="#000"/>
<ellipse cx="491.20" cy="1548.80" rx="9.2" ry="9.2" fill="#BCCC68" stroke="#000" stroke-width="2.4"/>
<rect x="489.40" y="1547.00" width="3.6" height="3.6" fill="#000"/>
<ellipse cx="483.60" cy="1585.70" rx="9.2" ry="9.2" fill="#BCCC68" stroke="#000" stroke-width="2.4"/>
<rect x="481.80" y="1583.90" width="3.6" height="3.6" fill="#000"/>
<ellipse cx="499.90" cy="1587.30" rx="9.2" ry="9.2" fill="#BCCC68" stroke="#000" stroke-width="2.4"/>
<rect x="498.10" y="1585.50" width="3.6" height="3.6" fill="#000"/>
<ellipse cx="476.80" cy="1575.10" rx="9.2" ry="9.2" fill="#BCCC68" stroke="#000" stroke-width="2.4"/>
<rect x="475.00" y="1573.30" width="3.6" height="3.6" fill="#000"/>
<ellipse cx="491.20" cy="1587.80" rx="9.2" ry="9.2" fill="#BCCC68" stroke="#000" stroke-width="2.4"/>
<rect x="489.40" y="1586.00" width="3.6" height="3.6" fill="#000"/>
<ellipse cx="483.60" cy="1622.40" rx="9.2" ry="9.2" fill="#BCCC68" stroke="#000" stroke-width="2.4"/>
<rect x="481.80" y="1620.60" width="3.6" height="3.6" fill="#000"/>
<ellipse cx="498.30" cy="1622.40" rx="9.2" ry="9.2" fill="#BCCC68" stroke="#000" stroke-width="2.4"/>
<rect x="496.50" y="1620.60" width="3.6" height="3.6" fill="#000"/>
<ellipse cx="491.20" cy="1622.40" rx="9.2" ry="9.2" fill="#BCCC68" stroke="#000" stroke-width="2.4"/>
<rect x="489.40" y="1620.60" width="3.6" height="3.6" fill="#000"/>
<ellipse cx="476.80" cy="1622.40" rx="9.2" ry="9.2" fill="#BCCC68" stroke="#000" stroke-width="2.4"/>
<rect x="475.00" y="1620.60" width="3.6" height="3.6" fill="#000"/>
<ellipse cx="505.30" cy="1622.40" rx="9.2" ry="9.2" fill="#BCCC68" stroke="#000" stroke-width="2.4"/>
<rect x="503.50" y="1620.60" width="3.6" height="3.6" fill="#000"/>
<ellipse cx="561.50" cy="1473.30" rx="9.2" ry="9.2" fill="#C2D3CD" stroke="#000" stroke-width="2.4"/>
<rect x="559.70" y="1471.50" width="3.6" height="3.6" fill="#000"/>
<ellipse cx="561.50" cy="1500.10" rx="9.2" ry="9.2" fill="#C2D3CD" stroke="#000" stroke-width="2.4"/>
<rect x="559.70" y="1498.30" width="3.6" height="3.6" fill="#000"/>
<ellipse cx="561.50" cy="1532.60" rx="9.2" ry="9.2" fill="#C2D3CD" stroke="#000" stroke-width="2.4"/>
<rect x="559.70" y="1530.80" width="3.6" height="3.6" fill="#000"/>
<ellipse cx="559.70" cy="1567.80" rx="9.2" ry="9.2" fill="#C2D3CD" stroke="#000" stroke-width="2.4"/>
<rect x="557.90" y="1566.00" width="3.6" height="3.6" fill="#000"/>
<ellipse cx="565.00" cy="1572.00" rx="9.2" ry="9.2" fill="#C2D3CD" stroke="#000" stroke-width="2.4"/>
<rect x="563.20" y="1570.20" width="3.6" height="3.6" fill="#000"/>
<ellipse cx="560.70" cy="1586.70" rx="9.2" ry="9.2" fill="#C2D3CD" stroke="#000" stroke-width="2.4"/>
<rect x="558.90" y="1584.90" width="3.6" height="3.6" fill="#000"/>
<ellipse cx="560.50" cy="1578.90" rx="9.2" ry="9.2" fill="#C2D3CD" stroke="#000" stroke-width="2.4"/>
<rect x="558.70" y="1577.10" width="3.6" height="3.6" fill="#000"/>
<ellipse cx="549.20" cy="1610.90" rx="9.2" ry="9.2" fill="#C2D3CD" stroke="#000" stroke-width="2.4"/>
<rect x="547.40" y="1609.10" width="3.6" height="3.6" fill="#000"/>
<ellipse cx="576.00" cy="1622.40" rx="9.2" ry="9.2" fill="#C2D3CD" stroke="#000" stroke-width="2.4"/>
<rect x="574.20" y="1620.60" width="3.6" height="3.6" fill="#000"/>
<ellipse cx="567.00" cy="1622.40" rx="9.2" ry="9.2" fill="#C2D3CD" stroke="#000" stroke-width="2.4"/>
<rect x="565.20" y="1620.60" width="3.6" height="3.6" fill="#000"/>
<ellipse cx="547.70" cy="1622.40" rx="9.2" ry="9.2" fill="#C2D3CD" stroke="#000" stroke-width="2.4"/>
<rect x="545.90" y="1620.60" width="3.6" height="3.6" fill="#000"/>
<ellipse cx="555.00" cy="1622.40" rx="9.2" ry="9.2" fill="#C2D3CD" stroke="#000" stroke-width="2.4"/>
<rect x="553.20" y="1620.60" width="3.6" height="3.6" fill="#000"/>
<path d="M881.75,1618.80H1327.90" stroke="#000" stroke-width="2.3" stroke-dasharray="4.1 2.15"/>
<path d="M873.85,1092.00H883.05V1661.50M874.00,1661.50H1330.30" stroke="#000" stroke-width="1.1" fill="none" stroke-linejoin="round"/>
<text transform="translate(811.32,1097.76) scale(1.082,1)" font-size="16.5" stroke="#000" stroke-width="0.3">100000</text>
<line x1="873.85" y1="1234.38" x2="883.05" y2="1234.38" stroke="#000" stroke-width="1.1" stroke-linecap="butt"/>
<text transform="translate(821.25,1240.13) scale(1.082,1)" font-size="16.5" stroke="#000" stroke-width="0.3">10000</text>
<line x1="873.85" y1="1376.75" x2="883.05" y2="1376.75" stroke="#000" stroke-width="1.1" stroke-linecap="butt"/>
<text transform="translate(831.19,1382.51) scale(1.082,1)" font-size="16.5" stroke="#000" stroke-width="0.3">1000</text>
<line x1="873.85" y1="1519.12" x2="883.05" y2="1519.12" stroke="#000" stroke-width="1.1" stroke-linecap="butt"/>
<text transform="translate(841.12,1524.88) scale(1.082,1)" font-size="16.5" stroke="#000" stroke-width="0.3">100</text>
<text transform="translate(851.04,1667.26) scale(1.082,1)" font-size="16.5" stroke="#000" stroke-width="0.3">10</text>
<line x1="930.20" y1="1661.50" x2="930.20" y2="1670.50" stroke="#000" stroke-width="1.1" stroke-linecap="butt"/>
<line x1="1000.50" y1="1661.50" x2="1000.50" y2="1670.50" stroke="#000" stroke-width="1.1" stroke-linecap="butt"/>
<line x1="1071.50" y1="1661.50" x2="1071.50" y2="1670.50" stroke="#000" stroke-width="1.1" stroke-linecap="butt"/>
<line x1="1142.10" y1="1661.50" x2="1142.10" y2="1670.50" stroke="#000" stroke-width="1.1" stroke-linecap="butt"/>
<line x1="1212.70" y1="1661.50" x2="1212.70" y2="1670.50" stroke="#000" stroke-width="1.1" stroke-linecap="butt"/>
<line x1="1283.30" y1="1661.50" x2="1283.30" y2="1670.50" stroke="#000" stroke-width="1.1" stroke-linecap="butt"/>
<text transform="translate(915.09,1689.70) scale(1.0290,1)" font-size="17.58" font-weight="bold">+ve</text>
<text transform="translate(985.00,1689.70) scale(1.0130,1)" font-size="17.84" font-weight="bold">-ve</text>
<text transform="translate(1056.39,1689.70) scale(1.0290,1)" font-size="17.58" font-weight="bold">+ve</text>
<text transform="translate(1126.60,1689.70) scale(1.0130,1)" font-size="17.84" font-weight="bold">-ve</text>
<text transform="translate(1197.59,1689.70) scale(1.0290,1)" font-size="17.58" font-weight="bold">+ve</text>
<text transform="translate(1267.80,1689.70) scale(1.0130,1)" font-size="17.84" font-weight="bold">-ve</text>
<line x1="1268.50" y1="1692.60" x2="1293.30" y2="1692.60" stroke="#000" stroke-width="1.5" stroke-linecap="butt"/>
<text transform="translate(941.28,1735.90) scale(0.9565,1)" font-size="26.02" font-weight="bold">WT</text>
<text transform="translate(1066.43,1735.60) scale(0.9708,1)" font-size="25.66" font-weight="bold">Delta</text>
<text transform="translate(1186.66,1735.60) scale(0.9878,1)" font-size="25.66" font-weight="bold">Omicron</text>
<line x1="917.35" y1="1746.20" x2="1003.45" y2="1746.20" stroke="#000" stroke-width="3.5" stroke-linecap="round"/>
<line x1="1054.05" y1="1745.90" x2="1140.35" y2="1745.90" stroke="#000" stroke-width="3.5" stroke-linecap="round"/>
<line x1="1195.35" y1="1745.90" x2="1281.65" y2="1745.90" stroke="#000" stroke-width="3.5" stroke-linecap="round"/>
<text transform="translate(795.30,1505.20) rotate(-90) scale(0.9367,1)" font-size="19.8" stroke="#000" stroke-width="0.4" x="-0.91">Serum neutralization titre (ID<tspan font-size="15.25" dy="6.63">50</tspan><tspan dy="-6.63">)</tspan></text>
<text transform="translate(922.13,949.50) scale(0.9878,1)" font-size="43.86" font-weight="normal">2m post second dose</text>
<rect x="906.80" y="1327.60" width="47.00" height="4.8" fill="#000"/>
<rect x="977.00" y="1389.30" width="47.00" height="4.8" fill="#000"/>
<rect x="1047.60" y="1386.30" width="47.20" height="4.8" fill="#000"/>
<rect x="1118.40" y="1439.30" width="46.50" height="4.8" fill="#000"/>
<rect x="1189.00" y="1516.90" width="46.70" height="4.8" fill="#000"/>
<rect x="1259.30" y="1517.10" width="46.90" height="4.8" fill="#000"/>
<path d="M995.40,998.10H1273.90" stroke="#000" stroke-width="3.0"/>
<path d="M995.40,991.60V1004.60M1273.90,991.60V1004.60" stroke="#000" stroke-width="3.4" stroke-linecap="round"/>
<path d="M1120.80,975.50V988.10M1114.91,978.40L1126.69,985.20M1114.91,985.20L1126.69,978.40" stroke="#000" stroke-width="3.2" fill="none"/>
<path d="M1134.80,975.50V988.10M1128.91,978.40L1140.69,985.20M1128.91,985.20L1140.69,978.40" stroke="#000" stroke-width="3.2" fill="none"/>
<path d="M1148.80,975.50V988.10M1142.91,978.40L1154.69,985.20M1142.91,985.20L1154.69,978.40" stroke="#000" stroke-width="3.2" fill="none"/>
<path d="M1136.00,1032.00H1273.90" stroke="#000" stroke-width="3.0"/>
<path d="M1136.00,1025.50V1038.50M1273.90,1025.50V1038.50" stroke="#000" stroke-width="3.4" stroke-linecap="round"/>
<path d="M1205.20,1009.40V1022.00M1199.31,1012.30L1211.09,1019.10M1199.31,1019.10L1211.09,1012.30" stroke="#000" stroke-width="3.2" fill="none"/>
<path d="M982.80,1064.00H1133.00" stroke="#000" stroke-width="3.0"/>
<path d="M982.80,1057.50V1070.50M1133.00,1057.50V1070.50" stroke="#000" stroke-width="3.4" stroke-linecap="round"/>
<text transform="translate(1047.83,1053.00) scale(0.9520,1)" font-size="20.26" font-weight="normal" stroke="#000" stroke-width="0.25">ns</text>
<path d="M918.90,1107.80H995.40" stroke="#000" stroke-width="3.0"/>
<path d="M918.90,1101.30V1114.30M995.40,1101.30V1114.30" stroke="#000" stroke-width="3.4" stroke-linecap="round"/>
<text transform="translate(947.13,1096.80) scale(0.9520,1)" font-size="20.26" font-weight="normal" stroke="#000" stroke-width="0.25">ns</text>
<path d="M1065.50,1132.40H1134.50" stroke="#000" stroke-width="3.0"/>
<path d="M1065.50,1125.90V1138.90M1134.50,1125.90V1138.90" stroke="#000" stroke-width="3.4" stroke-linecap="round"/>
<text transform="translate(1089.53,1121.40) scale(0.9520,1)" font-size="20.26" font-weight="normal" stroke="#000" stroke-width="0.25">ns</text>
<path d="M1197.70,1189.40H1266.40" stroke="#000" stroke-width="3.0"/>
<path d="M1197.70,1182.90V1195.90M1266.40,1182.90V1195.90" stroke="#000" stroke-width="3.4" stroke-linecap="round"/>
<text transform="translate(1221.73,1178.40) scale(0.9520,1)" font-size="20.26" font-weight="normal" stroke="#000" stroke-width="0.25">ns</text>
<ellipse cx="930.00" cy="1166.20" rx="9.2" ry="9.2" fill="#48C0AC" stroke="#000" stroke-width="2.4"/>
<rect x="928.20" y="1164.40" width="3.6" height="3.6" fill="#000"/>
<ellipse cx="930.20" cy="1221.60" rx="9.2" ry="9.2" fill="#48C0AC" stroke="#000" stroke-width="2.4"/>
<rect x="928.40" y="1219.80" width="3.6" height="3.6" fill="#000"/>
<ellipse cx="937.50" cy="1241.40" rx="9.2" ry="9.2" fill="#48C0AC" stroke="#000" stroke-width="2.4"/>
<rect x="935.70" y="1239.60" width="3.6" height="3.6" fill="#000"/>
<ellipse cx="923.10" cy="1246.30" rx="9.2" ry="9.2" fill="#48C0AC" stroke="#000" stroke-width="2.4"/>
<rect x="921.30" y="1244.50" width="3.6" height="3.6" fill="#000"/>
<ellipse cx="930.20" cy="1265.60" rx="9.2" ry="9.2" fill="#48C0AC" stroke="#000" stroke-width="2.4"/>
<rect x="928.40" y="1263.80" width="3.6" height="3.6" fill="#000"/>
<ellipse cx="930.20" cy="1321.40" rx="9.2" ry="9.2" fill="#48C0AC" stroke="#000" stroke-width="2.4"/>
<rect x="928.40" y="1319.60" width="3.6" height="3.6" fill="#000"/>
<ellipse cx="930.20" cy="1343.40" rx="9.2" ry="9.2" fill="#48C0AC" stroke="#000" stroke-width="2.4"/>
<rect x="928.40" y="1341.60" width="3.6" height="3.6" fill="#000"/>
<ellipse cx="915.80" cy="1364.20" rx="9.2" ry="9.2" fill="#48C0AC" stroke="#000" stroke-width="2.4"/>
<rect x="914.00" y="1362.40" width="3.6" height="3.6" fill="#000"/>
<ellipse cx="944.30" cy="1370.20" rx="9.2" ry="9.2" fill="#48C0AC" stroke="#000" stroke-width="2.4"/>
<rect x="942.50" y="1368.40" width="3.6" height="3.6" fill="#000"/>
<ellipse cx="930.20" cy="1374.90" rx="9.2" ry="9.2" fill="#48C0AC" stroke="#000" stroke-width="2.4"/>
<rect x="928.40" y="1373.10" width="3.6" height="3.6" fill="#000"/>
<ellipse cx="930.20" cy="1423.60" rx="9.2" ry="9.2" fill="#48C0AC" stroke="#000" stroke-width="2.4"/>
<rect x="928.40" y="1421.80" width="3.6" height="3.6" fill="#000"/>
<ellipse cx="930.20" cy="1459.80" rx="9.2" ry="9.2" fill="#48C0AC" stroke="#000" stroke-width="2.4"/>
<rect x="928.40" y="1458.00" width="3.6" height="3.6" fill="#000"/>
<ellipse cx="930.20" cy="1490.00" rx="9.2" ry="9.2" fill="#48C0AC" stroke="#000" stroke-width="2.4"/>
<rect x="928.40" y="1488.20" width="3.6" height="3.6" fill="#000"/>
<ellipse cx="993.10" cy="1209.80" rx="9.2" ry="9.2" fill="#E058FA" stroke="#000" stroke-width="2.4"/>
<rect x="991.30" y="1208.00" width="3.6" height="3.6" fill="#000"/>
<ellipse cx="993.10" cy="1252.80" rx="9.2" ry="9.2" fill="#E058FA" stroke="#000" stroke-width="2.4"/>
<rect x="991.30" y="1251.00" width="3.6" height="3.6" fill="#000"/>
<ellipse cx="999.90" cy="1247.50" rx="9.2" ry="9.2" fill="#E058FA" stroke="#000" stroke-width="2.4"/>
<rect x="998.10" y="1245.70" width="3.6" height="3.6" fill="#000"/>
<ellipse cx="999.90" cy="1357.60" rx="9.2" ry="9.2" fill="#E058FA" stroke="#000" stroke-width="2.4"/>
<rect x="998.10" y="1355.80" width="3.6" height="3.6" fill="#000"/>
<ellipse cx="986.30" cy="1395.50" rx="9.2" ry="9.2" fill="#E058FA" stroke="#000" stroke-width="2.4"/>
<rect x="984.50" y="1393.70" width="3.6" height="3.6" fill="#000"/>
<ellipse cx="992.60" cy="1422.80" rx="9.2" ry="9.2" fill="#E058FA" stroke="#000" stroke-width="2.4"/>
<rect x="990.80" y="1421.00" width="3.6" height="3.6" fill="#000"/>
<ellipse cx="1000.50" cy="1433.30" rx="9.2" ry="9.2" fill="#E058FA" stroke="#000" stroke-width="2.4"/>
<rect x="998.70" y="1431.50" width="3.6" height="3.6" fill="#000"/>
<ellipse cx="1007.80" cy="1428.00" rx="9.2" ry="9.2" fill="#E058FA" stroke="#000" stroke-width="2.4"/>
<rect x="1006.00" y="1426.20" width="3.6" height="3.6" fill="#000"/>
<ellipse cx="992.60" cy="1495.70" rx="9.2" ry="9.2" fill="#E058FA" stroke="#000" stroke-width="2.4"/>
<rect x="990.80" y="1493.90" width="3.6" height="3.6" fill="#000"/>
<ellipse cx="1007.80" cy="1495.70" rx="9.2" ry="9.2" fill="#E058FA" stroke="#000" stroke-width="2.4"/>
<rect x="1006.00" y="1493.90" width="3.6" height="3.6" fill="#000"/>
<ellipse cx="1000.50" cy="1142.40" rx="9.2" ry="9.2" fill="#E058FA" stroke="#000" stroke-width="2.4"/>
<rect x="998.70" y="1140.60" width="3.6" height="3.6" fill="#000"/>
<ellipse cx="1000.50" cy="1213.40" rx="9.2" ry="9.2" fill="#E058FA" stroke="#000" stroke-width="2.4"/>
<rect x="998.70" y="1211.60" width="3.6" height="3.6" fill="#000"/>
<ellipse cx="1007.80" cy="1231.60" rx="9.2" ry="9.2" fill="#E058FA" stroke="#000" stroke-width="2.4"/>
<rect x="1006.00" y="1229.80" width="3.6" height="3.6" fill="#000"/>
<ellipse cx="993.10" cy="1229.00" rx="9.2" ry="9.2" fill="#E058FA" stroke="#000" stroke-width="2.4"/>
<rect x="991.30" y="1227.20" width="3.6" height="3.6" fill="#000"/>
<ellipse cx="1007.80" cy="1252.60" rx="9.2" ry="9.2" fill="#E058FA" stroke="#000" stroke-width="2.4"/>
<rect x="1006.00" y="1250.80" width="3.6" height="3.6" fill="#000"/>
<ellipse cx="1000.50" cy="1283.90" rx="9.2" ry="9.2" fill="#E058FA" stroke="#000" stroke-width="2.4"/>
<rect x="998.70" y="1282.10" width="3.6" height="3.6" fill="#000"/>
<ellipse cx="1007.80" cy="1352.90" rx="9.2" ry="9.2" fill="#E058FA" stroke="#000" stroke-width="2.4"/>
<rect x="1006.00" y="1351.10" width="3.6" height="3.6" fill="#000"/>
<ellipse cx="1000.50" cy="1377.00" rx="9.2" ry="9.2" fill="#E058FA" stroke="#000" stroke-width="2.4"/>
<rect x="998.70" y="1375.20" width="3.6" height="3.6" fill="#000"/>
<ellipse cx="993.40" cy="1390.80" rx="9.2" ry="9.2" fill="#E058FA" stroke="#000" stroke-width="2.4"/>
<rect x="991.60" y="1389.00" width="3.6" height="3.6" fill="#000"/>
<ellipse cx="1000.50" cy="1411.80" rx="9.2" ry="9.2" fill="#E058FA" stroke="#000" stroke-width="2.4"/>
<rect x="998.70" y="1410.00" width="3.6" height="3.6" fill="#000"/>
<ellipse cx="1015.20" cy="1417.00" rx="9.2" ry="9.2" fill="#E058FA" stroke="#000" stroke-width="2.4"/>
<rect x="1013.40" y="1415.20" width="3.6" height="3.6" fill="#000"/>
<ellipse cx="986.30" cy="1428.60" rx="9.2" ry="9.2" fill="#E058FA" stroke="#000" stroke-width="2.4"/>
<rect x="984.50" y="1426.80" width="3.6" height="3.6" fill="#000"/>
<ellipse cx="1007.80" cy="1467.40" rx="9.2" ry="9.2" fill="#E058FA" stroke="#000" stroke-width="2.4"/>
<rect x="1006.00" y="1465.60" width="3.6" height="3.6" fill="#000"/>
<ellipse cx="1015.20" cy="1479.40" rx="9.2" ry="9.2" fill="#E058FA" stroke="#000" stroke-width="2.4"/>
<rect x="1013.40" y="1477.60" width="3.6" height="3.6" fill="#000"/>
<ellipse cx="1000.50" cy="1485.70" rx="9.2" ry="9.2" fill="#E058FA" stroke="#000" stroke-width="2.4"/>
<rect x="998.70" y="1483.90" width="3.6" height="3.6" fill="#000"/>
<ellipse cx="986.30" cy="1478.90" rx="9.2" ry="9.2" fill="#E058FA" stroke="#000" stroke-width="2.4"/>
<rect x="984.50" y="1477.10" width="3.6" height="3.6" fill="#000"/>
<ellipse cx="1000.50" cy="1506.30" rx="9.2" ry="9.2" fill="#E058FA" stroke="#000" stroke-width="2.4"/>
<rect x="998.70" y="1504.50" width="3.6" height="3.6" fill="#000"/>
<ellipse cx="1007.80" cy="1550.90" rx="9.2" ry="9.2" fill="#E058FA" stroke="#000" stroke-width="2.4"/>
<rect x="1006.00" y="1549.10" width="3.6" height="3.6" fill="#000"/>
<ellipse cx="1000.50" cy="1560.90" rx="9.2" ry="9.2" fill="#E058FA" stroke="#000" stroke-width="2.4"/>
<rect x="998.70" y="1559.10" width="3.6" height="3.6" fill="#000"/>
<ellipse cx="993.40" cy="1577.10" rx="9.2" ry="9.2" fill="#E058FA" stroke="#000" stroke-width="2.4"/>
<rect x="991.60" y="1575.30" width="3.6" height="3.6" fill="#000"/>
<ellipse cx="1007.80" cy="1577.10" rx="9.2" ry="9.2" fill="#E058FA" stroke="#000" stroke-width="2.4"/>
<rect x="1006.00" y="1575.30" width="3.6" height="3.6" fill="#000"/>
<ellipse cx="1085.40" cy="1245.30" rx="9.2" ry="9.2" fill="#7B5A57" stroke="#000" stroke-width="2.4"/>
<rect x="1083.60" y="1243.50" width="3.6" height="3.6" fill="#000"/>
<ellipse cx="1056.70" cy="1253.60" rx="9.2" ry="9.2" fill="#7B5A57" stroke="#000" stroke-width="2.4"/>
<rect x="1054.90" y="1251.80" width="3.6" height="3.6" fill="#000"/>
<ellipse cx="1071.00" cy="1262.60" rx="9.2" ry="9.2" fill="#7B5A57" stroke="#000" stroke-width="2.4"/>
<rect x="1069.20" y="1260.80" width="3.6" height="3.6" fill="#000"/>
<ellipse cx="1071.00" cy="1290.40" rx="9.2" ry="9.2" fill="#7B5A57" stroke="#000" stroke-width="2.4"/>
<rect x="1069.20" y="1288.60" width="3.6" height="3.6" fill="#000"/>
<ellipse cx="1071.00" cy="1320.80" rx="9.2" ry="9.2" fill="#7B5A57" stroke="#000" stroke-width="2.4"/>
<rect x="1069.20" y="1319.00" width="3.6" height="3.6" fill="#000"/>
<ellipse cx="1071.00" cy="1349.10" rx="9.2" ry="9.2" fill="#7B5A57" stroke="#000" stroke-width="2.4"/>
<rect x="1069.20" y="1347.30" width="3.6" height="3.6" fill="#000"/>
<ellipse cx="1071.00" cy="1403.40" rx="9.2" ry="9.2" fill="#7B5A57" stroke="#000" stroke-width="2.4"/>
<rect x="1069.20" y="1401.60" width="3.6" height="3.6" fill="#000"/>
<ellipse cx="1071.00" cy="1427.30" rx="9.2" ry="9.2" fill="#7B5A57" stroke="#000" stroke-width="2.4"/>
<rect x="1069.20" y="1425.50" width="3.6" height="3.6" fill="#000"/>
<ellipse cx="1071.00" cy="1453.60" rx="9.2" ry="9.2" fill="#7B5A57" stroke="#000" stroke-width="2.4"/>
<rect x="1069.20" y="1451.80" width="3.6" height="3.6" fill="#000"/>
<ellipse cx="1056.70" cy="1459.90" rx="9.2" ry="9.2" fill="#7B5A57" stroke="#000" stroke-width="2.4"/>
<rect x="1054.90" y="1458.10" width="3.6" height="3.6" fill="#000"/>
<ellipse cx="1085.40" cy="1459.90" rx="9.2" ry="9.2" fill="#7B5A57" stroke="#000" stroke-width="2.4"/>
<rect x="1083.60" y="1458.10" width="3.6" height="3.6" fill="#000"/>
<ellipse cx="1071.00" cy="1552.00" rx="9.2" ry="9.2" fill="#7B5A57" stroke="#000" stroke-width="2.4"/>
<rect x="1069.20" y="1550.20" width="3.6" height="3.6" fill="#000"/>
<ellipse cx="1071.00" cy="1576.70" rx="9.2" ry="9.2" fill="#7B5A57" stroke="#000" stroke-width="2.4"/>
<rect x="1069.20" y="1574.90" width="3.6" height="3.6" fill="#000"/>
<ellipse cx="1145.20" cy="1224.00" rx="9.2" ry="9.2" fill="#449BE6" stroke="#000" stroke-width="2.4"/>
<rect x="1143.40" y="1222.20" width="3.6" height="3.6" fill="#000"/>
<ellipse cx="1137.50" cy="1304.50" rx="9.2" ry="9.2" fill="#449BE6" stroke="#000" stroke-width="2.4"/>
<rect x="1135.70" y="1302.70" width="3.6" height="3.6" fill="#000"/>
<ellipse cx="1137.80" cy="1351.20" rx="9.2" ry="9.2" fill="#449BE6" stroke="#000" stroke-width="2.4"/>
<rect x="1136.00" y="1349.40" width="3.6" height="3.6" fill="#000"/>
<ellipse cx="1144.10" cy="1454.60" rx="9.2" ry="9.2" fill="#449BE6" stroke="#000" stroke-width="2.4"/>
<rect x="1142.30" y="1452.80" width="3.6" height="3.6" fill="#000"/>
<ellipse cx="1150.40" cy="1466.20" rx="9.2" ry="9.2" fill="#449BE6" stroke="#000" stroke-width="2.4"/>
<rect x="1148.60" y="1464.40" width="3.6" height="3.6" fill="#000"/>
<ellipse cx="1125.20" cy="1534.40" rx="9.2" ry="9.2" fill="#449BE6" stroke="#000" stroke-width="2.4"/>
<rect x="1123.40" y="1532.60" width="3.6" height="3.6" fill="#000"/>
<ellipse cx="1150.40" cy="1540.70" rx="9.2" ry="9.2" fill="#449BE6" stroke="#000" stroke-width="2.4"/>
<rect x="1148.60" y="1538.90" width="3.6" height="3.6" fill="#000"/>
<ellipse cx="1141.50" cy="1569.80" rx="9.2" ry="9.2" fill="#449BE6" stroke="#000" stroke-width="2.4"/>
<rect x="1139.70" y="1568.00" width="3.6" height="3.6" fill="#000"/>
<ellipse cx="1141.50" cy="1618.40" rx="9.2" ry="9.2" fill="#449BE6" stroke="#000" stroke-width="2.4"/>
<rect x="1139.70" y="1616.60" width="3.6" height="3.6" fill="#000"/>
<ellipse cx="1141.50" cy="1191.40" rx="9.2" ry="9.2" fill="#449BE6" stroke="#000" stroke-width="2.4"/>
<rect x="1139.70" y="1189.60" width="3.6" height="3.6" fill="#000"/>
<ellipse cx="1138.20" cy="1216.50" rx="9.2" ry="9.2" fill="#449BE6" stroke="#000" stroke-width="2.4"/>
<rect x="1136.40" y="1214.70" width="3.6" height="3.6" fill="#000"/>
<ellipse cx="1141.50" cy="1252.70" rx="9.2" ry="9.2" fill="#449BE6" stroke="#000" stroke-width="2.4"/>
<rect x="1139.70" y="1250.90" width="3.6" height="3.6" fill="#000"/>
<ellipse cx="1141.50" cy="1277.80" rx="9.2" ry="9.2" fill="#449BE6" stroke="#000" stroke-width="2.4"/>
<rect x="1139.70" y="1276.00" width="3.6" height="3.6" fill="#000"/>
<ellipse cx="1145.20" cy="1301.40" rx="9.2" ry="9.2" fill="#449BE6" stroke="#000" stroke-width="2.4"/>
<rect x="1143.40" y="1299.60" width="3.6" height="3.6" fill="#000"/>
<ellipse cx="1145.20" cy="1354.00" rx="9.2" ry="9.2" fill="#449BE6" stroke="#000" stroke-width="2.4"/>
<rect x="1143.40" y="1352.20" width="3.6" height="3.6" fill="#000"/>
<ellipse cx="1134.50" cy="1409.70" rx="9.2" ry="9.2" fill="#449BE6" stroke="#000" stroke-width="2.4"/>
<rect x="1132.70" y="1407.90" width="3.6" height="3.6" fill="#000"/>
<ellipse cx="1148.70" cy="1420.70" rx="9.2" ry="9.2" fill="#449BE6" stroke="#000" stroke-width="2.4"/>
<rect x="1146.90" y="1418.90" width="3.6" height="3.6" fill="#000"/>
<ellipse cx="1134.50" cy="1437.80" rx="9.2" ry="9.2" fill="#449BE6" stroke="#000" stroke-width="2.4"/>
<rect x="1132.70" y="1436.00" width="3.6" height="3.6" fill="#000"/>
<ellipse cx="1148.70" cy="1444.30" rx="9.2" ry="9.2" fill="#449BE6" stroke="#000" stroke-width="2.4"/>
<rect x="1146.90" y="1442.50" width="3.6" height="3.6" fill="#000"/>
<ellipse cx="1134.50" cy="1456.70" rx="9.2" ry="9.2" fill="#449BE6" stroke="#000" stroke-width="2.4"/>
<rect x="1132.70" y="1454.90" width="3.6" height="3.6" fill="#000"/>
<ellipse cx="1141.50" cy="1474.30" rx="9.2" ry="9.2" fill="#449BE6" stroke="#000" stroke-width="2.4"/>
<rect x="1139.70" y="1472.50" width="3.6" height="3.6" fill="#000"/>
<ellipse cx="1148.70" cy="1486.40" rx="9.2" ry="9.2" fill="#449BE6" stroke="#000" stroke-width="2.4"/>
<rect x="1146.90" y="1484.60" width="3.6" height="3.6" fill="#000"/>
<ellipse cx="1141.50" cy="1501.50" rx="9.2" ry="9.2" fill="#449BE6" stroke="#000" stroke-width="2.4"/>
<rect x="1139.70" y="1499.70" width="3.6" height="3.6" fill="#000"/>
<ellipse cx="1134.50" cy="1527.90" rx="9.2" ry="9.2" fill="#449BE6" stroke="#000" stroke-width="2.4"/>
<rect x="1132.70" y="1526.10" width="3.6" height="3.6" fill="#000"/>
<ellipse cx="1156.20" cy="1534.50" rx="9.2" ry="9.2" fill="#449BE6" stroke="#000" stroke-width="2.4"/>
<rect x="1154.40" y="1532.70" width="3.6" height="3.6" fill="#000"/>
<ellipse cx="1141.50" cy="1539.50" rx="9.2" ry="9.2" fill="#449BE6" stroke="#000" stroke-width="2.4"/>
<rect x="1139.70" y="1537.70" width="3.6" height="3.6" fill="#000"/>
<ellipse cx="1134.50" cy="1552.20" rx="9.2" ry="9.2" fill="#449BE6" stroke="#000" stroke-width="2.4"/>
<rect x="1132.70" y="1550.40" width="3.6" height="3.6" fill="#000"/>
<ellipse cx="1148.70" cy="1569.80" rx="9.2" ry="9.2" fill="#449BE6" stroke="#000" stroke-width="2.4"/>
<rect x="1146.90" y="1568.00" width="3.6" height="3.6" fill="#000"/>
<ellipse cx="1134.50" cy="1618.40" rx="9.2" ry="9.2" fill="#449BE6" stroke="#000" stroke-width="2.4"/>
<rect x="1132.70" y="1616.60" width="3.6" height="3.6" fill="#000"/>
<ellipse cx="1148.70" cy="1618.40" rx="9.2" ry="9.2" fill="#449BE6" stroke="#000" stroke-width="2.4"/>
<rect x="1146.90" y="1616.60" width="3.6" height="3.6" fill="#000"/>
<ellipse cx="1212.30" cy="1408.50" rx="9.2" ry="9.2" fill="#BCCC68" stroke="#000" stroke-width="2.4"/>
<rect x="1210.50" y="1406.70" width="3.6" height="3.6" fill="#000"/>
<ellipse cx="1212.30" cy="1454.90" rx="9.2" ry="9.2" fill="#BCCC68" stroke="#000" stroke-width="2.4"/>
<rect x="1210.50" y="1453.10" width="3.6" height="3.6" fill="#000"/>
<ellipse cx="1198.00" cy="1494.20" rx="9.2" ry="9.2" fill="#BCCC68" stroke="#000" stroke-width="2.4"/>
<rect x="1196.20" y="1492.40" width="3.6" height="3.6" fill="#000"/>
<ellipse cx="1212.30" cy="1509.10" rx="9.2" ry="9.2" fill="#BCCC68" stroke="#000" stroke-width="2.4"/>
<rect x="1210.50" y="1507.30" width="3.6" height="3.6" fill="#000"/>
<ellipse cx="1226.40" cy="1509.10" rx="9.2" ry="9.2" fill="#BCCC68" stroke="#000" stroke-width="2.4"/>
<rect x="1224.60" y="1507.30" width="3.6" height="3.6" fill="#000"/>
<ellipse cx="1198.00" cy="1524.80" rx="9.2" ry="9.2" fill="#BCCC68" stroke="#000" stroke-width="2.4"/>
<rect x="1196.20" y="1523.00" width="3.6" height="3.6" fill="#000"/>
<ellipse cx="1226.40" cy="1536.30" rx="9.2" ry="9.2" fill="#BCCC68" stroke="#000" stroke-width="2.4"/>
<rect x="1224.60" y="1534.50" width="3.6" height="3.6" fill="#000"/>
<ellipse cx="1212.30" cy="1553.20" rx="9.2" ry="9.2" fill="#BCCC68" stroke="#000" stroke-width="2.4"/>
<rect x="1210.50" y="1551.40" width="3.6" height="3.6" fill="#000"/>
<ellipse cx="1212.30" cy="1579.60" rx="9.2" ry="9.2" fill="#BCCC68" stroke="#000" stroke-width="2.4"/>
<rect x="1210.50" y="1577.80" width="3.6" height="3.6" fill="#000"/>
<ellipse cx="1212.30" cy="1618.40" rx="9.2" ry="9.2" fill="#BCCC68" stroke="#000" stroke-width="2.4"/>
<rect x="1210.50" y="1616.60" width="3.6" height="3.6" fill="#000"/>
<ellipse cx="1287.00" cy="1363.60" rx="9.2" ry="9.2" fill="#C2D3CD" stroke="#000" stroke-width="2.4"/>
<rect x="1285.20" y="1361.80" width="3.6" height="3.6" fill="#000"/>
<ellipse cx="1283.00" cy="1369.00" rx="9.2" ry="9.2" fill="#C2D3CD" stroke="#000" stroke-width="2.4"/>
<rect x="1281.20" y="1367.20" width="3.6" height="3.6" fill="#000"/>
<ellipse cx="1283.50" cy="1441.00" rx="9.2" ry="9.2" fill="#C2D3CD" stroke="#000" stroke-width="2.4"/>
<rect x="1281.70" y="1439.20" width="3.6" height="3.6" fill="#000"/>
<ellipse cx="1284.50" cy="1442.50" rx="9.2" ry="9.2" fill="#C2D3CD" stroke="#000" stroke-width="2.4"/>
<rect x="1282.70" y="1440.70" width="3.6" height="3.6" fill="#000"/>
<ellipse cx="1280.60" cy="1560.50" rx="9.2" ry="9.2" fill="#C2D3CD" stroke="#000" stroke-width="2.4"/>
<rect x="1278.80" y="1558.70" width="3.6" height="3.6" fill="#000"/>
<ellipse cx="1283.50" cy="1578.00" rx="9.2" ry="9.2" fill="#C2D3CD" stroke="#000" stroke-width="2.4"/>
<rect x="1281.70" y="1576.20" width="3.6" height="3.6" fill="#000"/>
<ellipse cx="1286.80" cy="1585.80" rx="9.2" ry="9.2" fill="#C2D3CD" stroke="#000" stroke-width="2.4"/>
<rect x="1285.00" y="1584.00" width="3.6" height="3.6" fill="#000"/>
<ellipse cx="1271.60" cy="1604.90" rx="9.2" ry="9.2" fill="#C2D3CD" stroke="#000" stroke-width="2.4"/>
<rect x="1269.80" y="1603.10" width="3.6" height="3.6" fill="#000"/>
<ellipse cx="1279.00" cy="1608.30" rx="9.2" ry="9.2" fill="#C2D3CD" stroke="#000" stroke-width="2.4"/>
<rect x="1277.20" y="1606.50" width="3.6" height="3.6" fill="#000"/>
<ellipse cx="1267.10" cy="1618.40" rx="9.2" ry="9.2" fill="#C2D3CD" stroke="#000" stroke-width="2.4"/>
<rect x="1265.30" y="1616.60" width="3.6" height="3.6" fill="#000"/>
<ellipse cx="1298.10" cy="1618.40" rx="9.2" ry="9.2" fill="#C2D3CD" stroke="#000" stroke-width="2.4"/>
<rect x="1296.30" y="1616.60" width="3.6" height="3.6" fill="#000"/>
<ellipse cx="1282.60" cy="1259.70" rx="9.2" ry="9.2" fill="#C2D3CD" stroke="#000" stroke-width="2.4"/>
<rect x="1280.80" y="1257.90" width="3.6" height="3.6" fill="#000"/>
<ellipse cx="1282.60" cy="1313.60" rx="9.2" ry="9.2" fill="#C2D3CD" stroke="#000" stroke-width="2.4"/>
<rect x="1280.80" y="1311.80" width="3.6" height="3.6" fill="#000"/>
<ellipse cx="1282.60" cy="1357.30" rx="9.2" ry="9.2" fill="#C2D3CD" stroke="#000" stroke-width="2.4"/>
<rect x="1280.80" y="1355.50" width="3.6" height="3.6" fill="#000"/>
<ellipse cx="1279.20" cy="1376.80" rx="9.2" ry="9.2" fill="#C2D3CD" stroke="#000" stroke-width="2.4"/>
<rect x="1277.40" y="1375.00" width="3.6" height="3.6" fill="#000"/>
<ellipse cx="1280.70" cy="1444.40" rx="9.2" ry="9.2" fill="#C2D3CD" stroke="#000" stroke-width="2.4"/>
<rect x="1278.90" y="1442.60" width="3.6" height="3.6" fill="#000"/>
<ellipse cx="1282.70" cy="1536.30" rx="9.2" ry="9.2" fill="#C2D3CD" stroke="#000" stroke-width="2.4"/>
<rect x="1280.90" y="1534.50" width="3.6" height="3.6" fill="#000"/>
<ellipse cx="1284.40" cy="1560.90" rx="9.2" ry="9.2" fill="#C2D3CD" stroke="#000" stroke-width="2.4"/>
<rect x="1282.60" y="1559.10" width="3.6" height="3.6" fill="#000"/>
<ellipse cx="1279.30" cy="1584.10" rx="9.2" ry="9.2" fill="#C2D3CD" stroke="#000" stroke-width="2.4"/>
<rect x="1277.50" y="1582.30" width="3.6" height="3.6" fill="#000"/>
<ellipse cx="1275.40" cy="1618.40" rx="9.2" ry="9.2" fill="#C2D3CD" stroke="#000" stroke-width="2.4"/>
<rect x="1273.60" y="1616.60" width="3.6" height="3.6" fill="#000"/>
<ellipse cx="1290.00" cy="1618.40" rx="9.2" ry="9.2" fill="#C2D3CD" stroke="#000" stroke-width="2.4"/>
<rect x="1288.20" y="1616.60" width="3.6" height="3.6" fill="#000"/>
</svg>
</body></html>
